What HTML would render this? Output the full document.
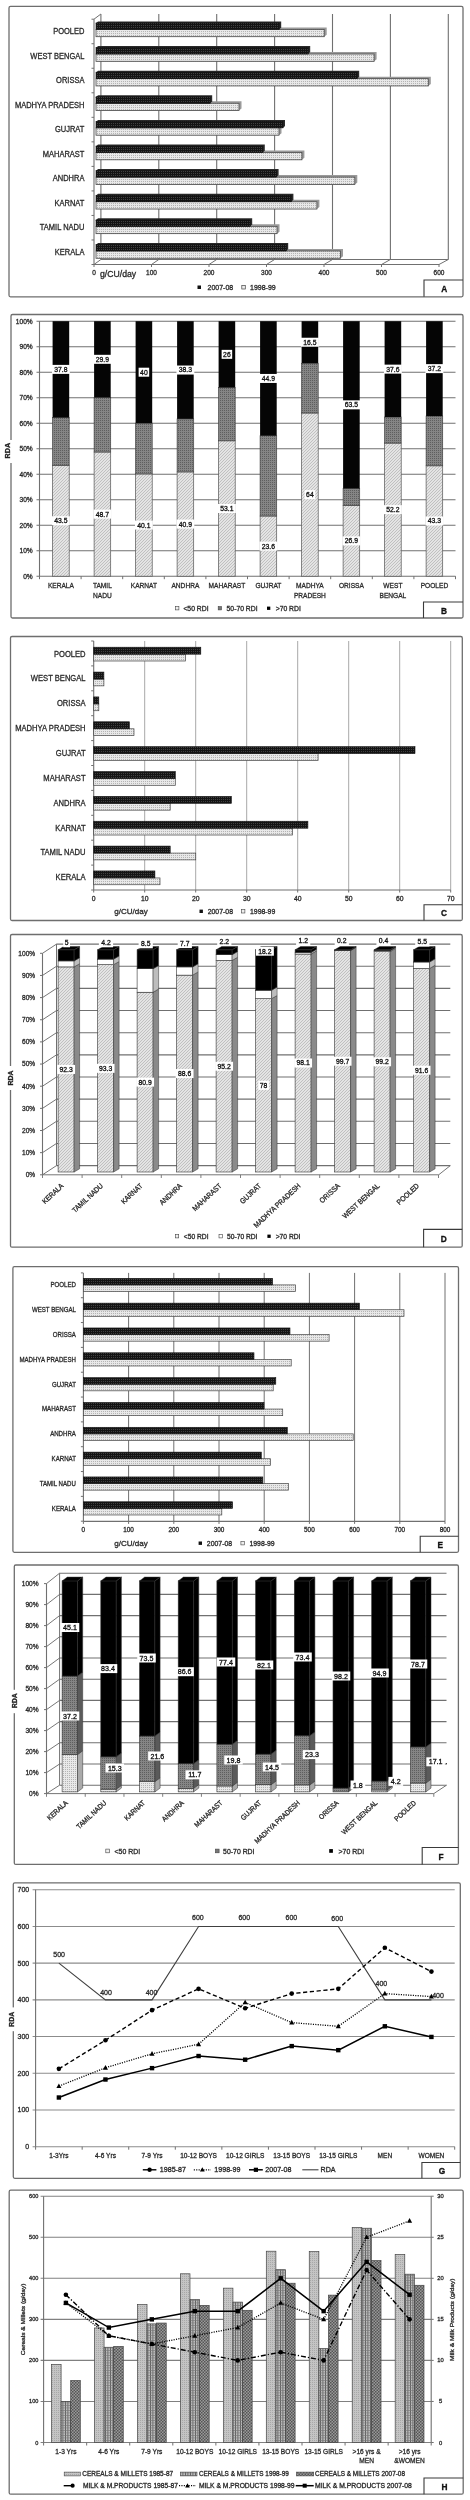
<!DOCTYPE html>
<html><head><meta charset="utf-8"><style>
html,body{margin:0;padding:0;background:#fff;}
svg{display:block;font-family:"Liberation Sans", sans-serif;filter:grayscale(1);}
text{stroke:currentColor;stroke-width:0.3px;}
</style></head><body>
<svg width="470" height="2500" viewBox="0 0 470 2500">

<defs>
<pattern id="pDark" width="2" height="2" patternUnits="userSpaceOnUse"><rect width="2" height="2" fill="#141414"/><rect x="1" y="1" width="1" height="1" fill="#404040"/></pattern>
<pattern id="pLight" width="2" height="2" patternUnits="userSpaceOnUse"><rect width="2" height="2" fill="#e8e8e8"/><rect x="1" y="1" width="1" height="1" fill="#b4b4b4"/></pattern>
<pattern id="pHatch" width="3" height="3" patternUnits="userSpaceOnUse"><rect width="3" height="3" fill="#e4e4e4"/><path d="M0,3 L3,0" stroke="#b0b0b0" stroke-width="0.7"/></pattern>
<pattern id="pMid" width="2" height="2" patternUnits="userSpaceOnUse"><rect width="2" height="2" fill="#858585"/><rect width="1" height="1" fill="#5e5e5e"/></pattern>
<pattern id="pH1" width="2" height="2" patternUnits="userSpaceOnUse"><rect width="2" height="2" fill="#c4c4c4"/><rect width="1" height="1" fill="#a8a8a8"/></pattern>
<pattern id="pH2" width="2.5" height="2.5" patternUnits="userSpaceOnUse"><rect width="2.5" height="2.5" fill="#bdbdbd"/><rect width="0.8" height="2.5" fill="#555"/><rect width="2.5" height="0.6" fill="#777"/></pattern>
<pattern id="pH3" width="3" height="3" patternUnits="userSpaceOnUse"><rect width="3" height="3" fill="#9a9a9a"/><rect width="1.5" height="1.5" fill="#555"/><rect x="1.5" y="1.5" width="1.5" height="1.5" fill="#555"/></pattern>
</defs>

<rect width="470" height="2500" fill="#fff"/>
<rect x="9" y="6.4" width="454" height="290.4" fill="none" stroke="#6e6e6e" stroke-width="1.3" rx="1.5"/>
<polyline points="424,296.8 424,280 463,280" fill="none" stroke="#3a3a3a" stroke-width="1.1"/>
<text x="444.3" y="292.1" font-size="8.3" text-anchor="middle" fill="#111" color="#111" font-weight="bold">A</text>
<line x1="100.9" y1="14" x2="100.9" y2="259.5" stroke="#707070" stroke-width="1.1"/>
<line x1="94" y1="264.5" x2="100.9" y2="259.5" stroke="#707070" stroke-width="1"/>
<line x1="94" y1="264.5" x2="94" y2="267" stroke="#707070" stroke-width="1"/>
<text x="94" y="275.1" font-size="6.5" text-anchor="middle" fill="#2a2a2a" color="#2a2a2a">0</text>
<line x1="158.8" y1="14" x2="158.8" y2="259.5" stroke="#707070" stroke-width="1.1"/>
<line x1="151.5" y1="264.5" x2="158.8" y2="259.5" stroke="#707070" stroke-width="1"/>
<line x1="151.5" y1="264.5" x2="151.5" y2="267" stroke="#707070" stroke-width="1"/>
<text x="151.5" y="275.1" font-size="6.5" text-anchor="middle" fill="#2a2a2a" color="#2a2a2a">100</text>
<line x1="216.7" y1="14" x2="216.7" y2="259.5" stroke="#707070" stroke-width="1.1"/>
<line x1="209" y1="264.5" x2="216.7" y2="259.5" stroke="#707070" stroke-width="1"/>
<line x1="209" y1="264.5" x2="209" y2="267" stroke="#707070" stroke-width="1"/>
<text x="209" y="275.1" font-size="6.5" text-anchor="middle" fill="#2a2a2a" color="#2a2a2a">200</text>
<line x1="274.6" y1="14" x2="274.6" y2="259.5" stroke="#707070" stroke-width="1.1"/>
<line x1="266.5" y1="264.5" x2="274.6" y2="259.5" stroke="#707070" stroke-width="1"/>
<line x1="266.5" y1="264.5" x2="266.5" y2="267" stroke="#707070" stroke-width="1"/>
<text x="266.5" y="275.1" font-size="6.5" text-anchor="middle" fill="#2a2a2a" color="#2a2a2a">300</text>
<line x1="332.5" y1="14" x2="332.5" y2="259.5" stroke="#707070" stroke-width="1.1"/>
<line x1="324" y1="264.5" x2="332.5" y2="259.5" stroke="#707070" stroke-width="1"/>
<line x1="324" y1="264.5" x2="324" y2="267" stroke="#707070" stroke-width="1"/>
<text x="324" y="275.1" font-size="6.5" text-anchor="middle" fill="#2a2a2a" color="#2a2a2a">400</text>
<line x1="390.4" y1="14" x2="390.4" y2="259.5" stroke="#707070" stroke-width="1.1"/>
<line x1="381.5" y1="264.5" x2="390.4" y2="259.5" stroke="#707070" stroke-width="1"/>
<line x1="381.5" y1="264.5" x2="381.5" y2="267" stroke="#707070" stroke-width="1"/>
<text x="381.5" y="275.1" font-size="6.5" text-anchor="middle" fill="#2a2a2a" color="#2a2a2a">500</text>
<line x1="448.3" y1="14" x2="448.3" y2="259.5" stroke="#707070" stroke-width="1.1"/>
<line x1="439" y1="264.5" x2="448.3" y2="259.5" stroke="#707070" stroke-width="1"/>
<line x1="439" y1="264.5" x2="439" y2="267" stroke="#707070" stroke-width="1"/>
<text x="439" y="275.1" font-size="6.5" text-anchor="middle" fill="#2a2a2a" color="#2a2a2a">600</text>
<line x1="100.9" y1="259.5" x2="448.3" y2="259.5" stroke="#707070" stroke-width="1"/>
<line x1="94" y1="19.2" x2="94" y2="264.5" stroke="#707070" stroke-width="1.1"/>
<line x1="94" y1="264.5" x2="439" y2="264.5" stroke="#707070" stroke-width="1.1"/>
<line x1="94" y1="19.2" x2="100.9" y2="14" stroke="#707070" stroke-width="1"/>
<line x1="91.5" y1="19.2" x2="94" y2="19.2" stroke="#707070" stroke-width="1"/>
<line x1="91.5" y1="43.73" x2="94" y2="43.73" stroke="#707070" stroke-width="1"/>
<line x1="91.5" y1="68.26" x2="94" y2="68.26" stroke="#707070" stroke-width="1"/>
<line x1="91.5" y1="92.79" x2="94" y2="92.79" stroke="#707070" stroke-width="1"/>
<line x1="91.5" y1="117.32" x2="94" y2="117.32" stroke="#707070" stroke-width="1"/>
<line x1="91.5" y1="141.85" x2="94" y2="141.85" stroke="#707070" stroke-width="1"/>
<line x1="91.5" y1="166.38" x2="94" y2="166.38" stroke="#707070" stroke-width="1"/>
<line x1="91.5" y1="190.91" x2="94" y2="190.91" stroke="#707070" stroke-width="1"/>
<line x1="91.5" y1="215.44" x2="94" y2="215.44" stroke="#707070" stroke-width="1"/>
<line x1="91.5" y1="239.97" x2="94" y2="239.97" stroke="#707070" stroke-width="1"/>
<line x1="91.5" y1="264.5" x2="94" y2="264.5" stroke="#707070" stroke-width="1"/>
<polygon points="96,29.4 98,27.4 326.7,27.4 326.7,34.7 324.2,36.7 96,36.7" fill="#9a9a9a"/>
<rect x="96" y="29.4" width="228.2" height="7.3" fill="url(#pLight)" stroke="#4a4a4a" stroke-width="0.8"/>
<polygon points="96,23.4 98,21.4 281.2,21.4 281.2,27.4 279.2,29.4 96,29.4" fill="#2a2a2a"/>
<rect x="96" y="22.9" width="183.2" height="6.5" fill="url(#pDark)" stroke="#111" stroke-width="0.6"/>
<text x="84.4" y="34" font-size="8.43" text-anchor="end" fill="#2a2a2a" color="#2a2a2a" textLength="31.26" lengthAdjust="spacingAndGlyphs">POOLED</text>
<polygon points="96,54.02 98,52.02 376.6,52.02 376.6,59.32 374.1,61.32 96,61.32" fill="#9a9a9a"/>
<rect x="96" y="54.02" width="278.1" height="7.3" fill="url(#pLight)" stroke="#4a4a4a" stroke-width="0.8"/>
<polygon points="96,48.02 98,46.02 310.2,46.02 310.2,52.02 308.2,54.02 96,54.02" fill="#2a2a2a"/>
<rect x="96" y="47.52" width="212.2" height="6.5" fill="url(#pDark)" stroke="#111" stroke-width="0.6"/>
<text x="84.4" y="58.52" font-size="8.43" text-anchor="end" fill="#2a2a2a" color="#2a2a2a" textLength="54.04" lengthAdjust="spacingAndGlyphs">WEST BENGAL</text>
<polygon points="96,78.64 98,76.64 430.8,76.64 430.8,83.94 428.3,85.94 96,85.94" fill="#9a9a9a"/>
<rect x="96" y="78.64" width="332.3" height="7.3" fill="url(#pLight)" stroke="#4a4a4a" stroke-width="0.8"/>
<polygon points="96,72.64 98,70.64 359.2,70.64 359.2,76.64 357.2,78.64 96,78.64" fill="#2a2a2a"/>
<rect x="96" y="72.14" width="261.2" height="6.5" fill="url(#pDark)" stroke="#111" stroke-width="0.6"/>
<text x="84.4" y="83.04" font-size="8.43" text-anchor="end" fill="#2a2a2a" color="#2a2a2a" textLength="28.34" lengthAdjust="spacingAndGlyphs">ORISSA</text>
<polygon points="96,103.26 98,101.26 241.5,101.26 241.5,108.56 239,110.56 96,110.56" fill="#9a9a9a"/>
<rect x="96" y="103.26" width="143" height="7.3" fill="url(#pLight)" stroke="#4a4a4a" stroke-width="0.8"/>
<polygon points="96,97.26 98,95.26 212.2,95.26 212.2,101.26 210.2,103.26 96,103.26" fill="#2a2a2a"/>
<rect x="96" y="96.76" width="114.2" height="6.5" fill="url(#pDark)" stroke="#111" stroke-width="0.6"/>
<text x="84.4" y="107.56" font-size="8.43" text-anchor="end" fill="#2a2a2a" color="#2a2a2a" textLength="69.46" lengthAdjust="spacingAndGlyphs">MADHYA PRADESH</text>
<polygon points="96,127.88 98,125.88 281.5,125.88 281.5,133.18 279,135.18 96,135.18" fill="#9a9a9a"/>
<rect x="96" y="127.88" width="183" height="7.3" fill="url(#pLight)" stroke="#4a4a4a" stroke-width="0.8"/>
<polygon points="96,121.88 98,119.88 285,119.88 285,125.88 283,127.88 96,127.88" fill="#2a2a2a"/>
<rect x="96" y="121.38" width="187" height="6.5" fill="url(#pDark)" stroke="#111" stroke-width="0.6"/>
<text x="84.4" y="132.08" font-size="8.43" text-anchor="end" fill="#2a2a2a" color="#2a2a2a" textLength="29.44" lengthAdjust="spacingAndGlyphs">GUJRAT</text>
<polygon points="96,152.5 98,150.5 304.4,150.5 304.4,157.8 301.9,159.8 96,159.8" fill="#9a9a9a"/>
<rect x="96" y="152.5" width="205.9" height="7.3" fill="url(#pLight)" stroke="#4a4a4a" stroke-width="0.8"/>
<polygon points="96,146.5 98,144.5 264.8,144.5 264.8,150.5 262.8,152.5 96,152.5" fill="#2a2a2a"/>
<rect x="96" y="146" width="166.8" height="6.5" fill="url(#pDark)" stroke="#111" stroke-width="0.6"/>
<text x="84.4" y="156.6" font-size="8.43" text-anchor="end" fill="#2a2a2a" color="#2a2a2a" textLength="41.67" lengthAdjust="spacingAndGlyphs">MAHARAST</text>
<polygon points="96,177.12 98,175.12 357.3,175.12 357.3,182.42 354.8,184.42 96,184.42" fill="#9a9a9a"/>
<rect x="96" y="177.12" width="258.8" height="7.3" fill="url(#pLight)" stroke="#4a4a4a" stroke-width="0.8"/>
<polygon points="96,171.12 98,169.12 278.6,169.12 278.6,175.12 276.6,177.12 96,177.12" fill="#2a2a2a"/>
<rect x="96" y="170.62" width="180.6" height="6.5" fill="url(#pDark)" stroke="#111" stroke-width="0.6"/>
<text x="84.4" y="181.12" font-size="8.43" text-anchor="end" fill="#2a2a2a" color="#2a2a2a" textLength="31.67" lengthAdjust="spacingAndGlyphs">ANDHRA</text>
<polygon points="96,201.74 98,199.74 319.4,199.74 319.4,207.04 316.9,209.04 96,209.04" fill="#9a9a9a"/>
<rect x="96" y="201.74" width="220.9" height="7.3" fill="url(#pLight)" stroke="#4a4a4a" stroke-width="0.8"/>
<polygon points="96,195.74 98,193.74 293.4,193.74 293.4,199.74 291.4,201.74 96,201.74" fill="#2a2a2a"/>
<rect x="96" y="195.24" width="195.4" height="6.5" fill="url(#pDark)" stroke="#111" stroke-width="0.6"/>
<text x="84.4" y="205.64" font-size="8.43" text-anchor="end" fill="#2a2a2a" color="#2a2a2a" textLength="29.87" lengthAdjust="spacingAndGlyphs">KARNAT</text>
<polygon points="96,226.36 98,224.36 279.5,224.36 279.5,231.66 277,233.66 96,233.66" fill="#9a9a9a"/>
<rect x="96" y="226.36" width="181" height="7.3" fill="url(#pLight)" stroke="#4a4a4a" stroke-width="0.8"/>
<polygon points="96,220.36 98,218.36 252.2,218.36 252.2,224.36 250.2,226.36 96,226.36" fill="#2a2a2a"/>
<rect x="96" y="219.86" width="154.2" height="6.5" fill="url(#pDark)" stroke="#111" stroke-width="0.6"/>
<text x="84.4" y="230.16" font-size="8.43" text-anchor="end" fill="#2a2a2a" color="#2a2a2a" textLength="44.59" lengthAdjust="spacingAndGlyphs">TAMIL NADU</text>
<polygon points="96,250.98 98,248.98 343,248.98 343,256.28 340.5,258.28 96,258.28" fill="#9a9a9a"/>
<rect x="96" y="250.98" width="244.5" height="7.3" fill="url(#pLight)" stroke="#4a4a4a" stroke-width="0.8"/>
<polygon points="96,244.98 98,242.98 288.2,242.98 288.2,248.98 286.2,250.98 96,250.98" fill="#2a2a2a"/>
<rect x="96" y="244.48" width="190.2" height="6.5" fill="url(#pDark)" stroke="#111" stroke-width="0.6"/>
<text x="84.4" y="254.68" font-size="8.43" text-anchor="end" fill="#2a2a2a" color="#2a2a2a" textLength="29.6" lengthAdjust="spacingAndGlyphs">KERALA</text>
<text x="100" y="277" font-size="8.66" text-anchor="start" fill="#2a2a2a" color="#2a2a2a">g/CU/day</text>
<rect x="197.5" y="285.5" width="3.5" height="3.5" fill="#111"/>
<text x="207.5" y="289.6" font-size="7" text-anchor="start" fill="#2a2a2a" color="#2a2a2a">2007-08</text>
<rect x="241.8" y="285.5" width="3.5" height="3.5" fill="#eee" stroke="#444" stroke-width="0.7"/>
<text x="250" y="289.6" font-size="7" text-anchor="start" fill="#2a2a2a" color="#2a2a2a">1998-99</text>
<rect x="11" y="314.5" width="452" height="303.5" fill="none" stroke="#6e6e6e" stroke-width="1.3" rx="1.5"/>
<polyline points="423.5,618 423.5,602 463,602" fill="none" stroke="#3a3a3a" stroke-width="1.1"/>
<text x="444.05" y="613.7" font-size="8.3" text-anchor="middle" fill="#111" color="#111" font-weight="bold">B</text>
<rect x="3.2" y="440" width="9.8" height="23" fill="#fff"/>
<text x="9.79" y="450.6" font-size="7.2" text-anchor="middle" fill="#222" color="#222" font-weight="bold" transform="rotate(-90 9.79 450.6)">RDA</text>
<line x1="36.5" y1="576.2" x2="455.5" y2="576.2" stroke="#707070" stroke-width="1.1"/>
<text x="32.7" y="578.6" font-size="6.6" text-anchor="end" fill="#2a2a2a" color="#2a2a2a">0%</text>
<line x1="36.5" y1="550.7" x2="455.5" y2="550.7" stroke="#707070" stroke-width="1.1"/>
<text x="32.7" y="553.1" font-size="6.6" text-anchor="end" fill="#2a2a2a" color="#2a2a2a">10%</text>
<line x1="36.5" y1="525.2" x2="455.5" y2="525.2" stroke="#707070" stroke-width="1.1"/>
<text x="32.7" y="527.6" font-size="6.6" text-anchor="end" fill="#2a2a2a" color="#2a2a2a">20%</text>
<line x1="36.5" y1="499.7" x2="455.5" y2="499.7" stroke="#707070" stroke-width="1.1"/>
<text x="32.7" y="502.1" font-size="6.6" text-anchor="end" fill="#2a2a2a" color="#2a2a2a">30%</text>
<line x1="36.5" y1="474.2" x2="455.5" y2="474.2" stroke="#707070" stroke-width="1.1"/>
<text x="32.7" y="476.6" font-size="6.6" text-anchor="end" fill="#2a2a2a" color="#2a2a2a">40%</text>
<line x1="36.5" y1="448.7" x2="455.5" y2="448.7" stroke="#707070" stroke-width="1.1"/>
<text x="32.7" y="451.1" font-size="6.6" text-anchor="end" fill="#2a2a2a" color="#2a2a2a">50%</text>
<line x1="36.5" y1="423.2" x2="455.5" y2="423.2" stroke="#707070" stroke-width="1.1"/>
<text x="32.7" y="425.6" font-size="6.6" text-anchor="end" fill="#2a2a2a" color="#2a2a2a">60%</text>
<line x1="36.5" y1="397.7" x2="455.5" y2="397.7" stroke="#707070" stroke-width="1.1"/>
<text x="32.7" y="400.1" font-size="6.6" text-anchor="end" fill="#2a2a2a" color="#2a2a2a">70%</text>
<line x1="36.5" y1="372.2" x2="455.5" y2="372.2" stroke="#707070" stroke-width="1.1"/>
<text x="32.7" y="374.6" font-size="6.6" text-anchor="end" fill="#2a2a2a" color="#2a2a2a">80%</text>
<line x1="36.5" y1="346.7" x2="455.5" y2="346.7" stroke="#707070" stroke-width="1.1"/>
<text x="32.7" y="349.1" font-size="6.6" text-anchor="end" fill="#2a2a2a" color="#2a2a2a">90%</text>
<line x1="36.5" y1="321.2" x2="455.5" y2="321.2" stroke="#707070" stroke-width="1.1"/>
<text x="32.7" y="323.6" font-size="6.6" text-anchor="end" fill="#2a2a2a" color="#2a2a2a">100%</text>
<line x1="39.5" y1="321.2" x2="39.5" y2="576.2" stroke="#707070" stroke-width="1.1"/>
<line x1="39.5" y1="576.2" x2="39.5" y2="579.2" stroke="#707070" stroke-width="1"/>
<line x1="81.1" y1="576.2" x2="81.1" y2="579.2" stroke="#707070" stroke-width="1"/>
<line x1="122.7" y1="576.2" x2="122.7" y2="579.2" stroke="#707070" stroke-width="1"/>
<line x1="164.3" y1="576.2" x2="164.3" y2="579.2" stroke="#707070" stroke-width="1"/>
<line x1="205.9" y1="576.2" x2="205.9" y2="579.2" stroke="#707070" stroke-width="1"/>
<line x1="247.5" y1="576.2" x2="247.5" y2="579.2" stroke="#707070" stroke-width="1"/>
<line x1="289.1" y1="576.2" x2="289.1" y2="579.2" stroke="#707070" stroke-width="1"/>
<line x1="330.7" y1="576.2" x2="330.7" y2="579.2" stroke="#707070" stroke-width="1"/>
<line x1="372.3" y1="576.2" x2="372.3" y2="579.2" stroke="#707070" stroke-width="1"/>
<line x1="413.9" y1="576.2" x2="413.9" y2="579.2" stroke="#707070" stroke-width="1"/>
<line x1="455.5" y1="576.2" x2="455.5" y2="579.2" stroke="#707070" stroke-width="1"/>
<rect x="52.6" y="465.28" width="16.6" height="110.93" fill="url(#pHatch)" stroke="#555" stroke-width="0.7"/>
<rect x="52.6" y="417.59" width="16.6" height="47.69" fill="url(#pMid)" stroke="#444" stroke-width="0.7"/>
<rect x="52.6" y="321.2" width="16.6" height="96.39" fill="#050505"/>
<rect x="51.96" y="364.89" width="17.89" height="9" fill="#fff"/>
<text x="60.9" y="371.84" font-size="6.8" text-anchor="middle" fill="#111" color="#111">37.8</text>
<rect x="51.96" y="516.24" width="17.89" height="9" fill="#fff"/>
<text x="60.9" y="523.19" font-size="6.8" text-anchor="middle" fill="#111" color="#111">43.5</text>
<text x="60.9" y="588.3" font-size="7.42" text-anchor="middle" fill="#2a2a2a" color="#2a2a2a" textLength="26.05" lengthAdjust="spacingAndGlyphs">KERALA</text>
<rect x="94.1" y="452.01" width="16.6" height="124.19" fill="url(#pHatch)" stroke="#555" stroke-width="0.7"/>
<rect x="94.1" y="397.45" width="16.6" height="54.57" fill="url(#pMid)" stroke="#444" stroke-width="0.7"/>
<rect x="94.1" y="321.2" width="16.6" height="76.25" fill="#050505"/>
<rect x="93.46" y="354.82" width="17.89" height="9" fill="#fff"/>
<text x="102.4" y="361.77" font-size="6.8" text-anchor="middle" fill="#111" color="#111">29.9</text>
<rect x="93.46" y="509.61" width="17.89" height="9" fill="#fff"/>
<text x="102.4" y="516.56" font-size="6.8" text-anchor="middle" fill="#111" color="#111">48.7</text>
<text x="102.4" y="588.3" font-size="7.42" text-anchor="middle" fill="#2a2a2a" color="#2a2a2a" textLength="18.95" lengthAdjust="spacingAndGlyphs">TAMIL</text>
<text x="102.4" y="597.8" font-size="7.42" text-anchor="middle" fill="#2a2a2a" color="#2a2a2a" textLength="18.7" lengthAdjust="spacingAndGlyphs">NADU</text>
<rect x="135.6" y="473.94" width="16.6" height="102.26" fill="url(#pHatch)" stroke="#555" stroke-width="0.7"/>
<rect x="135.6" y="423.2" width="16.6" height="50.75" fill="url(#pMid)" stroke="#444" stroke-width="0.7"/>
<rect x="135.6" y="321.2" width="16.6" height="102" fill="#050505"/>
<rect x="138.63" y="367.7" width="10.54" height="9" fill="#fff"/>
<text x="143.9" y="374.65" font-size="6.8" text-anchor="middle" fill="#111" color="#111">40</text>
<rect x="134.96" y="520.57" width="17.89" height="9" fill="#fff"/>
<text x="143.9" y="527.52" font-size="6.8" text-anchor="middle" fill="#111" color="#111">40.1</text>
<text x="143.9" y="588.3" font-size="7.42" text-anchor="middle" fill="#2a2a2a" color="#2a2a2a" textLength="26.28" lengthAdjust="spacingAndGlyphs">KARNAT</text>
<rect x="177.1" y="471.91" width="16.6" height="104.3" fill="url(#pHatch)" stroke="#555" stroke-width="0.7"/>
<rect x="177.1" y="418.87" width="16.6" height="53.04" fill="url(#pMid)" stroke="#444" stroke-width="0.7"/>
<rect x="177.1" y="321.2" width="16.6" height="97.67" fill="#050505"/>
<rect x="176.46" y="365.53" width="17.89" height="9" fill="#fff"/>
<text x="185.4" y="372.48" font-size="6.8" text-anchor="middle" fill="#111" color="#111">38.3</text>
<rect x="176.46" y="519.55" width="17.89" height="9" fill="#fff"/>
<text x="185.4" y="526.5" font-size="6.8" text-anchor="middle" fill="#111" color="#111">40.9</text>
<text x="185.4" y="588.3" font-size="7.42" text-anchor="middle" fill="#2a2a2a" color="#2a2a2a" textLength="27.87" lengthAdjust="spacingAndGlyphs">ANDHRA</text>
<rect x="218.6" y="440.8" width="16.6" height="135.41" fill="url(#pHatch)" stroke="#555" stroke-width="0.7"/>
<rect x="218.6" y="387.5" width="16.6" height="53.3" fill="url(#pMid)" stroke="#444" stroke-width="0.7"/>
<rect x="218.6" y="321.2" width="16.6" height="66.3" fill="#050505"/>
<rect x="221.63" y="349.85" width="10.54" height="9" fill="#fff"/>
<text x="226.9" y="356.8" font-size="6.8" text-anchor="middle" fill="#111" color="#111">26</text>
<rect x="217.96" y="504" width="17.89" height="9" fill="#fff"/>
<text x="226.9" y="510.95" font-size="6.8" text-anchor="middle" fill="#111" color="#111">53.1</text>
<text x="226.9" y="588.3" font-size="7.42" text-anchor="middle" fill="#2a2a2a" color="#2a2a2a" textLength="36.67" lengthAdjust="spacingAndGlyphs">MAHARAST</text>
<rect x="260.1" y="516.02" width="16.6" height="60.18" fill="url(#pHatch)" stroke="#555" stroke-width="0.7"/>
<rect x="260.1" y="435.69" width="16.6" height="80.32" fill="url(#pMid)" stroke="#444" stroke-width="0.7"/>
<rect x="260.1" y="321.2" width="16.6" height="114.5" fill="#050505"/>
<rect x="259.46" y="373.95" width="17.89" height="9" fill="#fff"/>
<text x="268.4" y="380.9" font-size="6.8" text-anchor="middle" fill="#111" color="#111">44.9</text>
<rect x="259.46" y="541.61" width="17.89" height="9" fill="#fff"/>
<text x="268.4" y="548.56" font-size="6.8" text-anchor="middle" fill="#111" color="#111">23.6</text>
<text x="268.4" y="588.3" font-size="7.42" text-anchor="middle" fill="#2a2a2a" color="#2a2a2a" textLength="25.91" lengthAdjust="spacingAndGlyphs">GUJRAT</text>
<rect x="301.6" y="413" width="16.6" height="163.2" fill="url(#pHatch)" stroke="#555" stroke-width="0.7"/>
<rect x="301.6" y="363.27" width="16.6" height="49.73" fill="url(#pMid)" stroke="#444" stroke-width="0.7"/>
<rect x="301.6" y="321.2" width="16.6" height="42.07" fill="#050505"/>
<rect x="300.96" y="337.74" width="17.89" height="9" fill="#fff"/>
<text x="309.9" y="344.69" font-size="6.8" text-anchor="middle" fill="#111" color="#111">16.5</text>
<rect x="304.63" y="490.1" width="10.54" height="9" fill="#fff"/>
<text x="309.9" y="497.05" font-size="6.8" text-anchor="middle" fill="#111" color="#111">64</text>
<text x="309.9" y="588.3" font-size="7.42" text-anchor="middle" fill="#2a2a2a" color="#2a2a2a" textLength="27.75" lengthAdjust="spacingAndGlyphs">MADHYA</text>
<text x="309.9" y="597.8" font-size="7.42" text-anchor="middle" fill="#2a2a2a" color="#2a2a2a" textLength="31.91" lengthAdjust="spacingAndGlyphs">PRADESH</text>
<rect x="343.1" y="505.57" width="16.6" height="70.63" fill="url(#pHatch)" stroke="#555" stroke-width="0.7"/>
<rect x="343.1" y="488.48" width="16.6" height="17.09" fill="url(#pMid)" stroke="#444" stroke-width="0.7"/>
<rect x="343.1" y="321.2" width="16.6" height="167.28" fill="#050505"/>
<rect x="342.46" y="400.34" width="17.89" height="9" fill="#fff"/>
<text x="351.4" y="407.29" font-size="6.8" text-anchor="middle" fill="#111" color="#111">63.5</text>
<rect x="342.46" y="536.38" width="17.89" height="9" fill="#fff"/>
<text x="351.4" y="543.33" font-size="6.8" text-anchor="middle" fill="#111" color="#111">26.9</text>
<text x="351.4" y="588.3" font-size="7.42" text-anchor="middle" fill="#2a2a2a" color="#2a2a2a" textLength="24.94" lengthAdjust="spacingAndGlyphs">ORISSA</text>
<rect x="384.6" y="443.09" width="16.6" height="133.11" fill="url(#pHatch)" stroke="#555" stroke-width="0.7"/>
<rect x="384.6" y="417.08" width="16.6" height="26.01" fill="url(#pMid)" stroke="#444" stroke-width="0.7"/>
<rect x="384.6" y="321.2" width="16.6" height="95.88" fill="#050505"/>
<rect x="383.96" y="364.64" width="17.89" height="9" fill="#fff"/>
<text x="392.9" y="371.59" font-size="6.8" text-anchor="middle" fill="#111" color="#111">37.6</text>
<rect x="383.96" y="505.15" width="17.89" height="9" fill="#fff"/>
<text x="392.9" y="512.09" font-size="6.8" text-anchor="middle" fill="#111" color="#111">52.2</text>
<text x="392.9" y="588.3" font-size="7.42" text-anchor="middle" fill="#2a2a2a" color="#2a2a2a" textLength="19.07" lengthAdjust="spacingAndGlyphs">WEST</text>
<text x="392.9" y="597.8" font-size="7.42" text-anchor="middle" fill="#2a2a2a" color="#2a2a2a" textLength="26.78" lengthAdjust="spacingAndGlyphs">BENGAL</text>
<rect x="426.1" y="465.79" width="16.6" height="110.42" fill="url(#pHatch)" stroke="#555" stroke-width="0.7"/>
<rect x="426.1" y="416.06" width="16.6" height="49.73" fill="url(#pMid)" stroke="#444" stroke-width="0.7"/>
<rect x="426.1" y="321.2" width="16.6" height="94.86" fill="#050505"/>
<rect x="425.46" y="364.13" width="17.89" height="9" fill="#fff"/>
<text x="434.4" y="371.08" font-size="6.8" text-anchor="middle" fill="#111" color="#111">37.2</text>
<rect x="425.46" y="516.49" width="17.89" height="9" fill="#fff"/>
<text x="434.4" y="523.44" font-size="6.8" text-anchor="middle" fill="#111" color="#111">43.3</text>
<text x="434.4" y="588.3" font-size="7.42" text-anchor="middle" fill="#2a2a2a" color="#2a2a2a" textLength="27.51" lengthAdjust="spacingAndGlyphs">POOLED</text>
<rect x="175.6" y="606.6" width="3.3" height="3.3" fill="#eee" stroke="#444" stroke-width="0.6"/>
<text x="183.4" y="610.7" font-size="6.8" text-anchor="start" fill="#2a2a2a" color="#2a2a2a">&lt;50 RDI</text>
<rect x="218.2" y="606.6" width="3.3" height="3.3" fill="#777" stroke="#444" stroke-width="0.6"/>
<text x="226.6" y="610.7" font-size="6.8" text-anchor="start" fill="#2a2a2a" color="#2a2a2a">50-70 RDI</text>
<rect x="267" y="606.6" width="3.3" height="3.3" fill="#000"/>
<text x="275.7" y="610.7" font-size="6.8" text-anchor="start" fill="#2a2a2a" color="#2a2a2a">&gt;70 RDI</text>
<rect x="10.5" y="636.5" width="451.8" height="284" fill="none" stroke="#6e6e6e" stroke-width="1.3" rx="1.5"/>
<polyline points="424,920.5 424,904.7 462.3,904.7" fill="none" stroke="#3a3a3a" stroke-width="1.1"/>
<text x="443.95" y="916.3" font-size="8.3" text-anchor="middle" fill="#111" color="#111" font-weight="bold">C</text>
<line x1="93.7" y1="890" x2="93.7" y2="892.5" stroke="#707070" stroke-width="1"/>
<text x="93.7" y="900.6" font-size="6.8" text-anchor="middle" fill="#2a2a2a" color="#2a2a2a">0</text>
<line x1="144.7" y1="641" x2="144.7" y2="890" stroke="#a8a8a8" stroke-width="1"/>
<line x1="144.7" y1="890" x2="144.7" y2="892.5" stroke="#707070" stroke-width="1"/>
<text x="144.7" y="900.6" font-size="6.8" text-anchor="middle" fill="#2a2a2a" color="#2a2a2a">10</text>
<line x1="195.7" y1="641" x2="195.7" y2="890" stroke="#a8a8a8" stroke-width="1"/>
<line x1="195.7" y1="890" x2="195.7" y2="892.5" stroke="#707070" stroke-width="1"/>
<text x="195.7" y="900.6" font-size="6.8" text-anchor="middle" fill="#2a2a2a" color="#2a2a2a">20</text>
<line x1="246.7" y1="641" x2="246.7" y2="890" stroke="#a8a8a8" stroke-width="1"/>
<line x1="246.7" y1="890" x2="246.7" y2="892.5" stroke="#707070" stroke-width="1"/>
<text x="246.7" y="900.6" font-size="6.8" text-anchor="middle" fill="#2a2a2a" color="#2a2a2a">30</text>
<line x1="297.7" y1="641" x2="297.7" y2="890" stroke="#a8a8a8" stroke-width="1"/>
<line x1="297.7" y1="890" x2="297.7" y2="892.5" stroke="#707070" stroke-width="1"/>
<text x="297.7" y="900.6" font-size="6.8" text-anchor="middle" fill="#2a2a2a" color="#2a2a2a">40</text>
<line x1="348.7" y1="641" x2="348.7" y2="890" stroke="#a8a8a8" stroke-width="1"/>
<line x1="348.7" y1="890" x2="348.7" y2="892.5" stroke="#707070" stroke-width="1"/>
<text x="348.7" y="900.6" font-size="6.8" text-anchor="middle" fill="#2a2a2a" color="#2a2a2a">50</text>
<line x1="399.7" y1="641" x2="399.7" y2="890" stroke="#a8a8a8" stroke-width="1"/>
<line x1="399.7" y1="890" x2="399.7" y2="892.5" stroke="#707070" stroke-width="1"/>
<text x="399.7" y="900.6" font-size="6.8" text-anchor="middle" fill="#2a2a2a" color="#2a2a2a">60</text>
<line x1="450.7" y1="641" x2="450.7" y2="890" stroke="#a8a8a8" stroke-width="1"/>
<line x1="450.7" y1="890" x2="450.7" y2="892.5" stroke="#707070" stroke-width="1"/>
<text x="450.7" y="900.6" font-size="6.8" text-anchor="middle" fill="#2a2a2a" color="#2a2a2a">70</text>
<line x1="93.7" y1="641" x2="93.7" y2="890" stroke="#707070" stroke-width="1.1"/>
<line x1="93.7" y1="890" x2="450.7" y2="890" stroke="#707070" stroke-width="1.1"/>
<line x1="91.2" y1="641" x2="93.7" y2="641" stroke="#707070" stroke-width="1"/>
<line x1="91.2" y1="665.9" x2="93.7" y2="665.9" stroke="#707070" stroke-width="1"/>
<line x1="91.2" y1="690.8" x2="93.7" y2="690.8" stroke="#707070" stroke-width="1"/>
<line x1="91.2" y1="715.7" x2="93.7" y2="715.7" stroke="#707070" stroke-width="1"/>
<line x1="91.2" y1="740.6" x2="93.7" y2="740.6" stroke="#707070" stroke-width="1"/>
<line x1="91.2" y1="765.5" x2="93.7" y2="765.5" stroke="#707070" stroke-width="1"/>
<line x1="91.2" y1="790.4" x2="93.7" y2="790.4" stroke="#707070" stroke-width="1"/>
<line x1="91.2" y1="815.3" x2="93.7" y2="815.3" stroke="#707070" stroke-width="1"/>
<line x1="91.2" y1="840.2" x2="93.7" y2="840.2" stroke="#707070" stroke-width="1"/>
<line x1="91.2" y1="865.1" x2="93.7" y2="865.1" stroke="#707070" stroke-width="1"/>
<line x1="91.2" y1="890" x2="93.7" y2="890" stroke="#707070" stroke-width="1"/>
<rect x="93.7" y="654.2" width="91.8" height="6.8" fill="url(#pLight)" stroke="#444" stroke-width="0.7"/>
<rect x="93.7" y="647.2" width="107.1" height="7" fill="url(#pDark)" stroke="#111" stroke-width="0.6"/>
<text x="85.6" y="656.6" font-size="8.54" text-anchor="end" fill="#2a2a2a" color="#2a2a2a" textLength="31.68" lengthAdjust="spacingAndGlyphs">POOLED</text>
<rect x="93.7" y="679.06" width="10.2" height="6.8" fill="url(#pLight)" stroke="#444" stroke-width="0.7"/>
<rect x="93.7" y="672.06" width="10.2" height="7" fill="url(#pDark)" stroke="#111" stroke-width="0.6"/>
<text x="85.6" y="681.46" font-size="8.54" text-anchor="end" fill="#2a2a2a" color="#2a2a2a" textLength="54.76" lengthAdjust="spacingAndGlyphs">WEST BENGAL</text>
<rect x="93.7" y="703.92" width="5.1" height="6.8" fill="url(#pLight)" stroke="#444" stroke-width="0.7"/>
<rect x="93.7" y="696.92" width="5.1" height="7" fill="url(#pDark)" stroke="#111" stroke-width="0.6"/>
<text x="85.6" y="706.32" font-size="8.54" text-anchor="end" fill="#2a2a2a" color="#2a2a2a" textLength="28.72" lengthAdjust="spacingAndGlyphs">ORISSA</text>
<rect x="93.7" y="728.78" width="40.29" height="6.8" fill="url(#pLight)" stroke="#444" stroke-width="0.7"/>
<rect x="93.7" y="721.78" width="35.7" height="7" fill="url(#pDark)" stroke="#111" stroke-width="0.6"/>
<text x="85.6" y="731.18" font-size="8.54" text-anchor="end" fill="#2a2a2a" color="#2a2a2a" textLength="70.39" lengthAdjust="spacingAndGlyphs">MADHYA PRADESH</text>
<rect x="93.7" y="753.64" width="224.4" height="6.8" fill="url(#pLight)" stroke="#444" stroke-width="0.7"/>
<rect x="93.7" y="746.64" width="321.3" height="7" fill="url(#pDark)" stroke="#111" stroke-width="0.6"/>
<text x="85.6" y="756.04" font-size="8.54" text-anchor="end" fill="#2a2a2a" color="#2a2a2a" textLength="29.84" lengthAdjust="spacingAndGlyphs">GUJRAT</text>
<rect x="93.7" y="778.5" width="81.6" height="6.8" fill="url(#pLight)" stroke="#444" stroke-width="0.7"/>
<rect x="93.7" y="771.5" width="81.6" height="7" fill="url(#pDark)" stroke="#111" stroke-width="0.6"/>
<text x="85.6" y="780.9" font-size="8.54" text-anchor="end" fill="#2a2a2a" color="#2a2a2a" textLength="42.23" lengthAdjust="spacingAndGlyphs">MAHARAST</text>
<rect x="93.7" y="803.36" width="76.5" height="6.8" fill="url(#pLight)" stroke="#444" stroke-width="0.7"/>
<rect x="93.7" y="796.36" width="137.7" height="7" fill="url(#pDark)" stroke="#111" stroke-width="0.6"/>
<text x="85.6" y="805.76" font-size="8.54" text-anchor="end" fill="#2a2a2a" color="#2a2a2a" textLength="32.09" lengthAdjust="spacingAndGlyphs">ANDHRA</text>
<rect x="93.7" y="828.22" width="198.9" height="6.8" fill="url(#pLight)" stroke="#444" stroke-width="0.7"/>
<rect x="93.7" y="821.22" width="214.2" height="7" fill="url(#pDark)" stroke="#111" stroke-width="0.6"/>
<text x="85.6" y="830.62" font-size="8.54" text-anchor="end" fill="#2a2a2a" color="#2a2a2a" textLength="30.26" lengthAdjust="spacingAndGlyphs">KARNAT</text>
<rect x="93.7" y="853.08" width="102" height="6.8" fill="url(#pLight)" stroke="#444" stroke-width="0.7"/>
<rect x="93.7" y="846.08" width="76.5" height="7" fill="url(#pDark)" stroke="#111" stroke-width="0.6"/>
<text x="85.6" y="855.48" font-size="8.54" text-anchor="end" fill="#2a2a2a" color="#2a2a2a" textLength="45.18" lengthAdjust="spacingAndGlyphs">TAMIL NADU</text>
<rect x="93.7" y="877.94" width="66.3" height="6.8" fill="url(#pLight)" stroke="#444" stroke-width="0.7"/>
<rect x="93.7" y="870.94" width="61.2" height="7" fill="url(#pDark)" stroke="#111" stroke-width="0.6"/>
<text x="85.6" y="880.34" font-size="8.54" text-anchor="end" fill="#2a2a2a" color="#2a2a2a" textLength="29.99" lengthAdjust="spacingAndGlyphs">KERALA</text>
<text x="131" y="914" font-size="8" text-anchor="middle" fill="#2a2a2a" color="#2a2a2a">g/CU/day</text>
<rect x="199.5" y="909.6" width="3.4" height="3.4" fill="#111"/>
<text x="207.7" y="913.7" font-size="6.9" text-anchor="start" fill="#2a2a2a" color="#2a2a2a">2007-08</text>
<rect x="241.5" y="909.6" width="3.4" height="3.4" fill="#eee" stroke="#444" stroke-width="0.6"/>
<text x="250" y="913.7" font-size="6.9" text-anchor="start" fill="#2a2a2a" color="#2a2a2a">1998-99</text>
<rect x="10.5" y="934.5" width="451.7" height="312.7" fill="none" stroke="#6e6e6e" stroke-width="1.3" rx="1.5"/>
<polyline points="423.6,1247.2 423.6,1229.4 462.2,1229.4" fill="none" stroke="#3a3a3a" stroke-width="1.1"/>
<text x="443.7" y="1242" font-size="8.3" text-anchor="middle" fill="#111" color="#111" font-weight="bold">D</text>
<rect x="6.4" y="1066" width="8" height="24" fill="#fff"/>
<text x="12.92" y="1078" font-size="7" text-anchor="middle" fill="#222" color="#222" font-weight="bold" transform="rotate(-90 12.92 1078)">RDA</text>
<line x1="42.5" y1="953.3" x2="42.5" y2="1174.8" stroke="#707070" stroke-width="1.1"/>
<line x1="56.5" y1="944.1" x2="56.5" y2="1165.6" stroke="#707070" stroke-width="1"/>
<line x1="42.5" y1="1174.8" x2="56.5" y2="1165.6" stroke="#666" stroke-width="0.9"/>
<line x1="40" y1="1174.8" x2="42.5" y2="1174.8" stroke="#707070" stroke-width="1"/>
<line x1="56.5" y1="1165.6" x2="450.3" y2="1165.6" stroke="#707070" stroke-width="1.1"/>
<text x="35.2" y="1177.2" font-size="6.6" text-anchor="end" fill="#2a2a2a" color="#2a2a2a">0%</text>
<line x1="42.5" y1="1152.65" x2="56.5" y2="1143.45" stroke="#666" stroke-width="0.9"/>
<line x1="40" y1="1152.65" x2="42.5" y2="1152.65" stroke="#707070" stroke-width="1"/>
<line x1="56.5" y1="1143.45" x2="450.3" y2="1143.45" stroke="#707070" stroke-width="1.1"/>
<text x="35.2" y="1155.05" font-size="6.6" text-anchor="end" fill="#2a2a2a" color="#2a2a2a">10%</text>
<line x1="42.5" y1="1130.5" x2="56.5" y2="1121.3" stroke="#666" stroke-width="0.9"/>
<line x1="40" y1="1130.5" x2="42.5" y2="1130.5" stroke="#707070" stroke-width="1"/>
<line x1="56.5" y1="1121.3" x2="450.3" y2="1121.3" stroke="#707070" stroke-width="1.1"/>
<text x="35.2" y="1132.9" font-size="6.6" text-anchor="end" fill="#2a2a2a" color="#2a2a2a">20%</text>
<line x1="42.5" y1="1108.35" x2="56.5" y2="1099.15" stroke="#666" stroke-width="0.9"/>
<line x1="40" y1="1108.35" x2="42.5" y2="1108.35" stroke="#707070" stroke-width="1"/>
<line x1="56.5" y1="1099.15" x2="450.3" y2="1099.15" stroke="#707070" stroke-width="1.1"/>
<text x="35.2" y="1110.75" font-size="6.6" text-anchor="end" fill="#2a2a2a" color="#2a2a2a">30%</text>
<line x1="42.5" y1="1086.2" x2="56.5" y2="1077" stroke="#666" stroke-width="0.9"/>
<line x1="40" y1="1086.2" x2="42.5" y2="1086.2" stroke="#707070" stroke-width="1"/>
<line x1="56.5" y1="1077" x2="450.3" y2="1077" stroke="#707070" stroke-width="1.1"/>
<text x="35.2" y="1088.6" font-size="6.6" text-anchor="end" fill="#2a2a2a" color="#2a2a2a">40%</text>
<line x1="42.5" y1="1064.05" x2="56.5" y2="1054.85" stroke="#666" stroke-width="0.9"/>
<line x1="40" y1="1064.05" x2="42.5" y2="1064.05" stroke="#707070" stroke-width="1"/>
<line x1="56.5" y1="1054.85" x2="450.3" y2="1054.85" stroke="#707070" stroke-width="1.1"/>
<text x="35.2" y="1066.45" font-size="6.6" text-anchor="end" fill="#2a2a2a" color="#2a2a2a">50%</text>
<line x1="42.5" y1="1041.9" x2="56.5" y2="1032.7" stroke="#666" stroke-width="0.9"/>
<line x1="40" y1="1041.9" x2="42.5" y2="1041.9" stroke="#707070" stroke-width="1"/>
<line x1="56.5" y1="1032.7" x2="450.3" y2="1032.7" stroke="#707070" stroke-width="1.1"/>
<text x="35.2" y="1044.3" font-size="6.6" text-anchor="end" fill="#2a2a2a" color="#2a2a2a">60%</text>
<line x1="42.5" y1="1019.75" x2="56.5" y2="1010.55" stroke="#666" stroke-width="0.9"/>
<line x1="40" y1="1019.75" x2="42.5" y2="1019.75" stroke="#707070" stroke-width="1"/>
<line x1="56.5" y1="1010.55" x2="450.3" y2="1010.55" stroke="#707070" stroke-width="1.1"/>
<text x="35.2" y="1022.15" font-size="6.6" text-anchor="end" fill="#2a2a2a" color="#2a2a2a">70%</text>
<line x1="42.5" y1="997.6" x2="56.5" y2="988.4" stroke="#666" stroke-width="0.9"/>
<line x1="40" y1="997.6" x2="42.5" y2="997.6" stroke="#707070" stroke-width="1"/>
<line x1="56.5" y1="988.4" x2="450.3" y2="988.4" stroke="#707070" stroke-width="1.1"/>
<text x="35.2" y="1000" font-size="6.6" text-anchor="end" fill="#2a2a2a" color="#2a2a2a">80%</text>
<line x1="42.5" y1="975.45" x2="56.5" y2="966.25" stroke="#666" stroke-width="0.9"/>
<line x1="40" y1="975.45" x2="42.5" y2="975.45" stroke="#707070" stroke-width="1"/>
<line x1="56.5" y1="966.25" x2="450.3" y2="966.25" stroke="#707070" stroke-width="1.1"/>
<text x="35.2" y="977.85" font-size="6.6" text-anchor="end" fill="#2a2a2a" color="#2a2a2a">90%</text>
<line x1="42.5" y1="953.3" x2="56.5" y2="944.1" stroke="#666" stroke-width="0.9"/>
<line x1="40" y1="953.3" x2="42.5" y2="953.3" stroke="#707070" stroke-width="1"/>
<line x1="56.5" y1="944.1" x2="450.3" y2="944.1" stroke="#707070" stroke-width="1.1"/>
<text x="35.2" y="955.7" font-size="6.6" text-anchor="end" fill="#2a2a2a" color="#2a2a2a">100%</text>
<line x1="42.5" y1="1174.8" x2="438.7" y2="1174.8" stroke="#666" stroke-width="0.9"/>
<line x1="438.7" y1="1174.8" x2="450.3" y2="1165.6" stroke="#666" stroke-width="0.9"/>
<rect x="58.1" y="966.91" width="16" height="205.09" fill="url(#pHatch)" stroke="#333" stroke-width="0.6"/>
<polygon points="74.1,1172 79.6,1168.8 79.6,963.71 74.1,966.91" fill="#8a8a8a" stroke="#333" stroke-width="0.5"/>
<rect x="58.1" y="960.91" width="16" height="6" fill="#fff" stroke="#333" stroke-width="0.6"/>
<polygon points="74.1,966.91 79.6,963.71 79.6,957.71 74.1,960.91" fill="#bdbdbd" stroke="#333" stroke-width="0.5"/>
<rect x="58.1" y="949.8" width="16" height="11.11" fill="#000" stroke="#333" stroke-width="0.6"/>
<polygon points="74.1,960.91 79.6,957.71 79.6,946.6 74.1,949.8" fill="#000" stroke="#333" stroke-width="0.5"/>
<polygon points="58.1,949.8 63.6,946.6 79.6,946.6 74.1,949.8" fill="#000" stroke="#333" stroke-width="0.5"/>
<rect x="63.16" y="938.3" width="6.87" height="9" fill="#fff"/>
<text x="66.6" y="945.25" font-size="6.8" text-anchor="middle" fill="#111" color="#111">5</text>
<rect x="57.16" y="1064.95" width="17.89" height="9" fill="#fff"/>
<text x="66.1" y="1071.9" font-size="6.8" text-anchor="middle" fill="#111" color="#111">92.3</text>
<text x="64.1" y="1186.5" font-size="7.42" text-anchor="end" fill="#2a2a2a" color="#2a2a2a" transform="rotate(-43 64.1 1186.5)" textLength="26.05" lengthAdjust="spacingAndGlyphs">KERALA</text>
<rect x="97.6" y="964.69" width="16" height="207.31" fill="url(#pHatch)" stroke="#333" stroke-width="0.6"/>
<polygon points="113.6,1172 119.1,1168.8 119.1,961.49 113.6,964.69" fill="#8a8a8a" stroke="#333" stroke-width="0.5"/>
<rect x="97.6" y="959.13" width="16" height="5.56" fill="#fff" stroke="#333" stroke-width="0.6"/>
<polygon points="113.6,964.69 119.1,961.49 119.1,955.93 113.6,959.13" fill="#bdbdbd" stroke="#333" stroke-width="0.5"/>
<rect x="97.6" y="949.8" width="16" height="9.33" fill="#000" stroke="#333" stroke-width="0.6"/>
<polygon points="113.6,959.13 119.1,955.93 119.1,946.6 113.6,949.8" fill="#000" stroke="#333" stroke-width="0.5"/>
<polygon points="97.6,949.8 103.1,946.6 119.1,946.6 113.6,949.8" fill="#000" stroke="#333" stroke-width="0.5"/>
<rect x="98.89" y="938.3" width="14.22" height="9" fill="#fff"/>
<text x="106" y="945.25" font-size="6.8" text-anchor="middle" fill="#111" color="#111">4.2</text>
<rect x="96.66" y="1063.84" width="17.89" height="9" fill="#fff"/>
<text x="105.6" y="1070.79" font-size="6.8" text-anchor="middle" fill="#111" color="#111">93.3</text>
<text x="103.6" y="1186.5" font-size="7.42" text-anchor="end" fill="#2a2a2a" color="#2a2a2a" transform="rotate(-43 103.6 1186.5)" textLength="39.24" lengthAdjust="spacingAndGlyphs">TAMIL NADU</text>
<rect x="137.1" y="992.24" width="16" height="179.76" fill="url(#pHatch)" stroke="#333" stroke-width="0.6"/>
<polygon points="153.1,1172 158.6,1168.8 158.6,989.04 153.1,992.24" fill="#8a8a8a" stroke="#333" stroke-width="0.5"/>
<rect x="137.1" y="968.69" width="16" height="23.55" fill="#fff" stroke="#333" stroke-width="0.6"/>
<polygon points="153.1,992.24 158.6,989.04 158.6,965.49 153.1,968.69" fill="#bdbdbd" stroke="#333" stroke-width="0.5"/>
<rect x="137.1" y="949.8" width="16" height="18.89" fill="#000" stroke="#333" stroke-width="0.6"/>
<polygon points="153.1,968.69 158.6,965.49 158.6,946.6 153.1,949.8" fill="#000" stroke="#333" stroke-width="0.5"/>
<polygon points="137.1,949.8 142.6,946.6 158.6,946.6 153.1,949.8" fill="#000" stroke="#333" stroke-width="0.5"/>
<rect x="138.59" y="939.3" width="14.22" height="9" fill="#fff"/>
<text x="145.7" y="946.25" font-size="6.8" text-anchor="middle" fill="#111" color="#111">8.5</text>
<rect x="136.16" y="1077.62" width="17.89" height="9" fill="#fff"/>
<text x="145.1" y="1084.57" font-size="6.8" text-anchor="middle" fill="#111" color="#111">80.9</text>
<text x="143.1" y="1186.5" font-size="7.42" text-anchor="end" fill="#2a2a2a" color="#2a2a2a" transform="rotate(-43 143.1 1186.5)" textLength="26.28" lengthAdjust="spacingAndGlyphs">KARNAT</text>
<rect x="176.6" y="975.13" width="16" height="196.87" fill="url(#pHatch)" stroke="#333" stroke-width="0.6"/>
<polygon points="192.6,1172 198.1,1168.8 198.1,971.93 192.6,975.13" fill="#8a8a8a" stroke="#333" stroke-width="0.5"/>
<rect x="176.6" y="966.91" width="16" height="8.22" fill="#fff" stroke="#333" stroke-width="0.6"/>
<polygon points="192.6,975.13 198.1,971.93 198.1,963.71 192.6,966.91" fill="#bdbdbd" stroke="#333" stroke-width="0.5"/>
<rect x="176.6" y="949.8" width="16" height="17.11" fill="#000" stroke="#333" stroke-width="0.6"/>
<polygon points="192.6,966.91 198.1,963.71 198.1,946.6 192.6,949.8" fill="#000" stroke="#333" stroke-width="0.5"/>
<polygon points="176.6,949.8 182.1,946.6 198.1,946.6 192.6,949.8" fill="#000" stroke="#333" stroke-width="0.5"/>
<rect x="177.69" y="939.1" width="14.22" height="9" fill="#fff"/>
<text x="184.8" y="946.05" font-size="6.8" text-anchor="middle" fill="#111" color="#111">7.7</text>
<rect x="175.66" y="1069.07" width="17.89" height="9" fill="#fff"/>
<text x="184.6" y="1076.01" font-size="6.8" text-anchor="middle" fill="#111" color="#111">88.6</text>
<text x="182.6" y="1186.5" font-size="7.42" text-anchor="end" fill="#2a2a2a" color="#2a2a2a" transform="rotate(-43 182.6 1186.5)" textLength="27.87" lengthAdjust="spacingAndGlyphs">ANDHRA</text>
<rect x="216.1" y="960.47" width="16" height="211.53" fill="url(#pHatch)" stroke="#333" stroke-width="0.6"/>
<polygon points="232.1,1172 237.6,1168.8 237.6,957.27 232.1,960.47" fill="#8a8a8a" stroke="#333" stroke-width="0.5"/>
<rect x="216.1" y="954.69" width="16" height="5.78" fill="#fff" stroke="#333" stroke-width="0.6"/>
<polygon points="232.1,960.47 237.6,957.27 237.6,951.49 232.1,954.69" fill="#bdbdbd" stroke="#333" stroke-width="0.5"/>
<rect x="216.1" y="949.8" width="16" height="4.89" fill="#000" stroke="#333" stroke-width="0.6"/>
<polygon points="232.1,954.69 237.6,951.49 237.6,946.6 232.1,949.8" fill="#000" stroke="#333" stroke-width="0.5"/>
<polygon points="216.1,949.8 221.6,946.6 237.6,946.6 232.1,949.8" fill="#000" stroke="#333" stroke-width="0.5"/>
<rect x="217.19" y="936.8" width="14.22" height="9" fill="#fff"/>
<text x="224.3" y="943.75" font-size="6.8" text-anchor="middle" fill="#111" color="#111">2.2</text>
<rect x="215.16" y="1061.73" width="17.89" height="9" fill="#fff"/>
<text x="224.1" y="1068.68" font-size="6.8" text-anchor="middle" fill="#111" color="#111">95.2</text>
<text x="222.1" y="1186.5" font-size="7.42" text-anchor="end" fill="#2a2a2a" color="#2a2a2a" transform="rotate(-43 222.1 1186.5)" textLength="36.67" lengthAdjust="spacingAndGlyphs">MAHARAST</text>
<rect x="255.6" y="998.68" width="16" height="173.32" fill="url(#pHatch)" stroke="#333" stroke-width="0.6"/>
<polygon points="271.6,1172 277.1,1168.8 277.1,995.48 271.6,998.68" fill="#8a8a8a" stroke="#333" stroke-width="0.5"/>
<rect x="255.6" y="990.24" width="16" height="8.44" fill="#fff" stroke="#333" stroke-width="0.6"/>
<polygon points="271.6,998.68 277.1,995.48 277.1,987.04 271.6,990.24" fill="#bdbdbd" stroke="#333" stroke-width="0.5"/>
<rect x="255.6" y="949.8" width="16" height="40.44" fill="#000" stroke="#333" stroke-width="0.6"/>
<polygon points="271.6,990.24 277.1,987.04 277.1,946.6 271.6,949.8" fill="#000" stroke="#333" stroke-width="0.5"/>
<polygon points="255.6,949.8 261.1,946.6 277.1,946.6 271.6,949.8" fill="#000" stroke="#333" stroke-width="0.5"/>
<rect x="255.96" y="946.7" width="17.89" height="9" fill="#fff"/>
<text x="264.9" y="953.65" font-size="6.8" text-anchor="middle" fill="#111" color="#111">18.2</text>
<rect x="258.33" y="1080.84" width="10.54" height="9" fill="#fff"/>
<text x="263.6" y="1087.79" font-size="6.8" text-anchor="middle" fill="#111" color="#111">78</text>
<text x="261.6" y="1186.5" font-size="7.42" text-anchor="end" fill="#2a2a2a" color="#2a2a2a" transform="rotate(-43 261.6 1186.5)" textLength="25.91" lengthAdjust="spacingAndGlyphs">GUJRAT</text>
<rect x="295.1" y="954.02" width="16" height="217.98" fill="url(#pHatch)" stroke="#333" stroke-width="0.6"/>
<polygon points="311.1,1172 316.6,1168.8 316.6,950.82 311.1,954.02" fill="#8a8a8a" stroke="#333" stroke-width="0.5"/>
<rect x="295.1" y="952.47" width="16" height="1.56" fill="#fff" stroke="#333" stroke-width="0.6"/>
<polygon points="311.1,954.02 316.6,950.82 316.6,949.27 311.1,952.47" fill="#bdbdbd" stroke="#333" stroke-width="0.5"/>
<rect x="295.1" y="949.8" width="16" height="2.67" fill="#000" stroke="#333" stroke-width="0.6"/>
<polygon points="311.1,952.47 316.6,949.27 316.6,946.6 311.1,949.8" fill="#000" stroke="#333" stroke-width="0.5"/>
<polygon points="295.1,949.8 300.6,946.6 316.6,946.6 311.1,949.8" fill="#000" stroke="#333" stroke-width="0.5"/>
<rect x="296.09" y="936" width="14.22" height="9" fill="#fff"/>
<text x="303.2" y="942.95" font-size="6.8" text-anchor="middle" fill="#111" color="#111">1.2</text>
<rect x="294.16" y="1058.51" width="17.89" height="9" fill="#fff"/>
<text x="303.1" y="1065.46" font-size="6.8" text-anchor="middle" fill="#111" color="#111">98.1</text>
<text x="301.1" y="1186.5" font-size="7.42" text-anchor="end" fill="#2a2a2a" color="#2a2a2a" transform="rotate(-43 301.1 1186.5)" textLength="61.13" lengthAdjust="spacingAndGlyphs">MADHYA PRADESH</text>
<rect x="334.6" y="950.47" width="16" height="221.53" fill="url(#pHatch)" stroke="#333" stroke-width="0.6"/>
<polygon points="350.6,1172 356.1,1168.8 356.1,947.27 350.6,950.47" fill="#8a8a8a" stroke="#333" stroke-width="0.5"/>
<rect x="334.6" y="950.24" width="16" height="0.22" fill="#fff" stroke="#333" stroke-width="0.6"/>
<polygon points="350.6,950.47 356.1,947.27 356.1,947.04 350.6,950.24" fill="#bdbdbd" stroke="#333" stroke-width="0.5"/>
<rect x="334.6" y="949.8" width="16" height="0.44" fill="#000" stroke="#333" stroke-width="0.6"/>
<polygon points="350.6,950.24 356.1,947.04 356.1,946.6 350.6,949.8" fill="#000" stroke="#333" stroke-width="0.5"/>
<polygon points="334.6,949.8 340.1,946.6 356.1,946.6 350.6,949.8" fill="#000" stroke="#333" stroke-width="0.5"/>
<rect x="334.69" y="936" width="14.22" height="9" fill="#fff"/>
<text x="341.8" y="942.95" font-size="6.8" text-anchor="middle" fill="#111" color="#111">0.2</text>
<rect x="333.66" y="1056.73" width="17.89" height="9" fill="#fff"/>
<text x="342.6" y="1063.68" font-size="6.8" text-anchor="middle" fill="#111" color="#111">99.7</text>
<text x="340.6" y="1186.5" font-size="7.42" text-anchor="end" fill="#2a2a2a" color="#2a2a2a" transform="rotate(-43 340.6 1186.5)" textLength="24.94" lengthAdjust="spacingAndGlyphs">ORISSA</text>
<rect x="374.1" y="951.58" width="16" height="220.42" fill="url(#pHatch)" stroke="#333" stroke-width="0.6"/>
<polygon points="390.1,1172 395.6,1168.8 395.6,948.38 390.1,951.58" fill="#8a8a8a" stroke="#333" stroke-width="0.5"/>
<rect x="374.1" y="950.69" width="16" height="0.89" fill="#fff" stroke="#333" stroke-width="0.6"/>
<polygon points="390.1,951.58 395.6,948.38 395.6,947.49 390.1,950.69" fill="#bdbdbd" stroke="#333" stroke-width="0.5"/>
<rect x="374.1" y="949.8" width="16" height="0.89" fill="#000" stroke="#333" stroke-width="0.6"/>
<polygon points="390.1,950.69 395.6,947.49 395.6,946.6 390.1,949.8" fill="#000" stroke="#333" stroke-width="0.5"/>
<polygon points="374.1,949.8 379.6,946.6 395.6,946.6 390.1,949.8" fill="#000" stroke="#333" stroke-width="0.5"/>
<rect x="376.39" y="936" width="14.22" height="9" fill="#fff"/>
<text x="383.5" y="942.95" font-size="6.8" text-anchor="middle" fill="#111" color="#111">0.4</text>
<rect x="373.16" y="1057.29" width="17.89" height="9" fill="#fff"/>
<text x="382.1" y="1064.24" font-size="6.8" text-anchor="middle" fill="#111" color="#111">99.2</text>
<text x="380.1" y="1186.5" font-size="7.42" text-anchor="end" fill="#2a2a2a" color="#2a2a2a" transform="rotate(-43 380.1 1186.5)" textLength="47.56" lengthAdjust="spacingAndGlyphs">WEST BENGAL</text>
<rect x="413.6" y="968.46" width="16" height="203.54" fill="url(#pHatch)" stroke="#333" stroke-width="0.6"/>
<polygon points="429.6,1172 435.1,1168.8 435.1,965.26 429.6,968.46" fill="#8a8a8a" stroke="#333" stroke-width="0.5"/>
<rect x="413.6" y="962.02" width="16" height="6.44" fill="#fff" stroke="#333" stroke-width="0.6"/>
<polygon points="429.6,968.46 435.1,965.26 435.1,958.82 429.6,962.02" fill="#bdbdbd" stroke="#333" stroke-width="0.5"/>
<rect x="413.6" y="949.8" width="16" height="12.22" fill="#000" stroke="#333" stroke-width="0.6"/>
<polygon points="429.6,962.02 435.1,958.82 435.1,946.6 429.6,949.8" fill="#000" stroke="#333" stroke-width="0.5"/>
<polygon points="413.6,949.8 419.1,946.6 435.1,946.6 429.6,949.8" fill="#000" stroke="#333" stroke-width="0.5"/>
<rect x="415.19" y="937.5" width="14.22" height="9" fill="#fff"/>
<text x="422.3" y="944.45" font-size="6.8" text-anchor="middle" fill="#111" color="#111">5.5</text>
<rect x="412.66" y="1065.73" width="17.89" height="9" fill="#fff"/>
<text x="421.6" y="1072.68" font-size="6.8" text-anchor="middle" fill="#111" color="#111">91.6</text>
<text x="419.6" y="1186.5" font-size="7.42" text-anchor="end" fill="#2a2a2a" color="#2a2a2a" transform="rotate(-43 419.6 1186.5)" textLength="27.51" lengthAdjust="spacingAndGlyphs">POOLED</text>
<line x1="42.5" y1="1174.8" x2="42.5" y2="1178" stroke="#707070" stroke-width="0.9"/>
<line x1="82.1" y1="1174.8" x2="82.1" y2="1178" stroke="#707070" stroke-width="0.9"/>
<line x1="121.7" y1="1174.8" x2="121.7" y2="1178" stroke="#707070" stroke-width="0.9"/>
<line x1="161.3" y1="1174.8" x2="161.3" y2="1178" stroke="#707070" stroke-width="0.9"/>
<line x1="200.9" y1="1174.8" x2="200.9" y2="1178" stroke="#707070" stroke-width="0.9"/>
<line x1="240.5" y1="1174.8" x2="240.5" y2="1178" stroke="#707070" stroke-width="0.9"/>
<line x1="280.1" y1="1174.8" x2="280.1" y2="1178" stroke="#707070" stroke-width="0.9"/>
<line x1="319.7" y1="1174.8" x2="319.7" y2="1178" stroke="#707070" stroke-width="0.9"/>
<line x1="359.3" y1="1174.8" x2="359.3" y2="1178" stroke="#707070" stroke-width="0.9"/>
<line x1="398.9" y1="1174.8" x2="398.9" y2="1178" stroke="#707070" stroke-width="0.9"/>
<line x1="438.5" y1="1174.8" x2="438.5" y2="1178" stroke="#707070" stroke-width="0.9"/>
<rect x="175.4" y="1234.6" width="3.3" height="3.3" fill="#eee" stroke="#444" stroke-width="0.6"/>
<text x="183.8" y="1238.7" font-size="6.7" text-anchor="start" fill="#2a2a2a" color="#2a2a2a">&lt;50 RDI</text>
<rect x="219" y="1234.6" width="3.3" height="3.3" fill="#fff" stroke="#444" stroke-width="0.6"/>
<text x="227" y="1238.7" font-size="6.7" text-anchor="start" fill="#2a2a2a" color="#2a2a2a">50-70 RDI</text>
<rect x="267.4" y="1234.6" width="3.3" height="3.3" fill="#000"/>
<text x="275.7" y="1238.7" font-size="6.7" text-anchor="start" fill="#2a2a2a" color="#2a2a2a">&gt;70 RDI</text>
<rect x="12.9" y="1266.7" width="445.6" height="285.6" fill="none" stroke="#6e6e6e" stroke-width="1.3" rx="1.5"/>
<polyline points="420.2,1552.3 420.2,1536.3 458.5,1536.3" fill="none" stroke="#3a3a3a" stroke-width="1.1"/>
<text x="440.15" y="1548" font-size="8.3" text-anchor="middle" fill="#111" color="#111" font-weight="bold">E</text>
<line x1="83.4" y1="1521.4" x2="83.4" y2="1523.9" stroke="#707070" stroke-width="1"/>
<text x="83.4" y="1531.8" font-size="6.4" text-anchor="middle" fill="#2a2a2a" color="#2a2a2a">0</text>
<line x1="128.6" y1="1272.9" x2="128.6" y2="1521.4" stroke="#707070" stroke-width="1"/>
<line x1="128.6" y1="1521.4" x2="128.6" y2="1523.9" stroke="#707070" stroke-width="1"/>
<text x="128.6" y="1531.8" font-size="6.4" text-anchor="middle" fill="#2a2a2a" color="#2a2a2a">100</text>
<line x1="173.8" y1="1272.9" x2="173.8" y2="1521.4" stroke="#707070" stroke-width="1"/>
<line x1="173.8" y1="1521.4" x2="173.8" y2="1523.9" stroke="#707070" stroke-width="1"/>
<text x="173.8" y="1531.8" font-size="6.4" text-anchor="middle" fill="#2a2a2a" color="#2a2a2a">200</text>
<line x1="219" y1="1272.9" x2="219" y2="1521.4" stroke="#707070" stroke-width="1"/>
<line x1="219" y1="1521.4" x2="219" y2="1523.9" stroke="#707070" stroke-width="1"/>
<text x="219" y="1531.8" font-size="6.4" text-anchor="middle" fill="#2a2a2a" color="#2a2a2a">300</text>
<line x1="264.2" y1="1272.9" x2="264.2" y2="1521.4" stroke="#707070" stroke-width="1"/>
<line x1="264.2" y1="1521.4" x2="264.2" y2="1523.9" stroke="#707070" stroke-width="1"/>
<text x="264.2" y="1531.8" font-size="6.4" text-anchor="middle" fill="#2a2a2a" color="#2a2a2a">400</text>
<line x1="309.4" y1="1272.9" x2="309.4" y2="1521.4" stroke="#707070" stroke-width="1"/>
<line x1="309.4" y1="1521.4" x2="309.4" y2="1523.9" stroke="#707070" stroke-width="1"/>
<text x="309.4" y="1531.8" font-size="6.4" text-anchor="middle" fill="#2a2a2a" color="#2a2a2a">500</text>
<line x1="354.6" y1="1272.9" x2="354.6" y2="1521.4" stroke="#707070" stroke-width="1"/>
<line x1="354.6" y1="1521.4" x2="354.6" y2="1523.9" stroke="#707070" stroke-width="1"/>
<text x="354.6" y="1531.8" font-size="6.4" text-anchor="middle" fill="#2a2a2a" color="#2a2a2a">600</text>
<line x1="399.8" y1="1272.9" x2="399.8" y2="1521.4" stroke="#707070" stroke-width="1"/>
<line x1="399.8" y1="1521.4" x2="399.8" y2="1523.9" stroke="#707070" stroke-width="1"/>
<text x="399.8" y="1531.8" font-size="6.4" text-anchor="middle" fill="#2a2a2a" color="#2a2a2a">700</text>
<line x1="445" y1="1272.9" x2="445" y2="1521.4" stroke="#707070" stroke-width="1"/>
<line x1="445" y1="1521.4" x2="445" y2="1523.9" stroke="#707070" stroke-width="1"/>
<text x="445" y="1531.8" font-size="6.4" text-anchor="middle" fill="#2a2a2a" color="#2a2a2a">800</text>
<line x1="83.4" y1="1272.9" x2="83.4" y2="1521.4" stroke="#707070" stroke-width="1.1"/>
<line x1="83.4" y1="1521.4" x2="445" y2="1521.4" stroke="#707070" stroke-width="1.1"/>
<line x1="80.9" y1="1272.9" x2="83.4" y2="1272.9" stroke="#707070" stroke-width="1"/>
<line x1="80.9" y1="1297.73" x2="83.4" y2="1297.73" stroke="#707070" stroke-width="1"/>
<line x1="80.9" y1="1322.56" x2="83.4" y2="1322.56" stroke="#707070" stroke-width="1"/>
<line x1="80.9" y1="1347.39" x2="83.4" y2="1347.39" stroke="#707070" stroke-width="1"/>
<line x1="80.9" y1="1372.22" x2="83.4" y2="1372.22" stroke="#707070" stroke-width="1"/>
<line x1="80.9" y1="1397.05" x2="83.4" y2="1397.05" stroke="#707070" stroke-width="1"/>
<line x1="80.9" y1="1421.88" x2="83.4" y2="1421.88" stroke="#707070" stroke-width="1"/>
<line x1="80.9" y1="1446.71" x2="83.4" y2="1446.71" stroke="#707070" stroke-width="1"/>
<line x1="80.9" y1="1471.54" x2="83.4" y2="1471.54" stroke="#707070" stroke-width="1"/>
<line x1="80.9" y1="1496.37" x2="83.4" y2="1496.37" stroke="#707070" stroke-width="1"/>
<line x1="80.9" y1="1521.2" x2="83.4" y2="1521.2" stroke="#707070" stroke-width="1"/>
<rect x="83.4" y="1284.9" width="212.1" height="6.6" fill="url(#pLight)" stroke="#444" stroke-width="0.7"/>
<rect x="83.4" y="1278.3" width="189.2" height="6.6" fill="url(#pDark)" stroke="#111" stroke-width="0.6"/>
<text x="75.9" y="1287.3" font-size="6.85" text-anchor="end" fill="#2a2a2a" color="#2a2a2a" textLength="25.43" lengthAdjust="spacingAndGlyphs">POOLED</text>
<rect x="83.4" y="1309.73" width="320.6" height="6.6" fill="url(#pLight)" stroke="#444" stroke-width="0.7"/>
<rect x="83.4" y="1303.13" width="276.1" height="6.6" fill="url(#pDark)" stroke="#111" stroke-width="0.6"/>
<text x="75.9" y="1312.13" font-size="6.85" text-anchor="end" fill="#2a2a2a" color="#2a2a2a" textLength="43.96" lengthAdjust="spacingAndGlyphs">WEST BENGAL</text>
<rect x="83.4" y="1334.56" width="245.7" height="6.6" fill="url(#pLight)" stroke="#444" stroke-width="0.7"/>
<rect x="83.4" y="1327.96" width="206.6" height="6.6" fill="url(#pDark)" stroke="#111" stroke-width="0.6"/>
<text x="75.9" y="1336.96" font-size="6.85" text-anchor="end" fill="#2a2a2a" color="#2a2a2a" textLength="23.05" lengthAdjust="spacingAndGlyphs">ORISSA</text>
<rect x="83.4" y="1359.39" width="207.8" height="6.6" fill="url(#pLight)" stroke="#444" stroke-width="0.7"/>
<rect x="83.4" y="1352.79" width="170.6" height="6.6" fill="url(#pDark)" stroke="#111" stroke-width="0.6"/>
<text x="75.9" y="1361.79" font-size="6.85" text-anchor="end" fill="#2a2a2a" color="#2a2a2a" textLength="56.5" lengthAdjust="spacingAndGlyphs">MADHYA PRADESH</text>
<rect x="83.4" y="1384.22" width="189.8" height="6.6" fill="url(#pLight)" stroke="#444" stroke-width="0.7"/>
<rect x="83.4" y="1377.62" width="192.4" height="6.6" fill="url(#pDark)" stroke="#111" stroke-width="0.6"/>
<text x="75.9" y="1386.62" font-size="6.85" text-anchor="end" fill="#2a2a2a" color="#2a2a2a" textLength="23.95" lengthAdjust="spacingAndGlyphs">GUJRAT</text>
<rect x="83.4" y="1409.05" width="199.3" height="6.6" fill="url(#pLight)" stroke="#444" stroke-width="0.7"/>
<rect x="83.4" y="1402.45" width="180.6" height="6.6" fill="url(#pDark)" stroke="#111" stroke-width="0.6"/>
<text x="75.9" y="1411.45" font-size="6.85" text-anchor="end" fill="#2a2a2a" color="#2a2a2a" textLength="33.89" lengthAdjust="spacingAndGlyphs">MAHARAST</text>
<rect x="83.4" y="1433.88" width="269.8" height="6.6" fill="url(#pLight)" stroke="#444" stroke-width="0.7"/>
<rect x="83.4" y="1427.28" width="203.9" height="6.6" fill="url(#pDark)" stroke="#111" stroke-width="0.6"/>
<text x="75.9" y="1436.28" font-size="6.85" text-anchor="end" fill="#2a2a2a" color="#2a2a2a" textLength="25.76" lengthAdjust="spacingAndGlyphs">ANDHRA</text>
<rect x="83.4" y="1458.71" width="187.1" height="6.6" fill="url(#pLight)" stroke="#444" stroke-width="0.7"/>
<rect x="83.4" y="1452.11" width="177.9" height="6.6" fill="url(#pDark)" stroke="#111" stroke-width="0.6"/>
<text x="75.9" y="1461.11" font-size="6.85" text-anchor="end" fill="#2a2a2a" color="#2a2a2a" textLength="24.29" lengthAdjust="spacingAndGlyphs">KARNAT</text>
<rect x="83.4" y="1483.54" width="205.1" height="6.6" fill="url(#pLight)" stroke="#444" stroke-width="0.7"/>
<rect x="83.4" y="1476.94" width="179.4" height="6.6" fill="url(#pDark)" stroke="#111" stroke-width="0.6"/>
<text x="75.9" y="1485.94" font-size="6.85" text-anchor="end" fill="#2a2a2a" color="#2a2a2a" textLength="36.26" lengthAdjust="spacingAndGlyphs">TAMIL NADU</text>
<rect x="83.4" y="1508.37" width="138.4" height="6.6" fill="url(#pLight)" stroke="#444" stroke-width="0.7"/>
<rect x="83.4" y="1501.77" width="149.2" height="6.6" fill="url(#pDark)" stroke="#111" stroke-width="0.6"/>
<text x="75.9" y="1510.77" font-size="6.85" text-anchor="end" fill="#2a2a2a" color="#2a2a2a" textLength="24.07" lengthAdjust="spacingAndGlyphs">KERALA</text>
<text x="131" y="1545.8" font-size="8" text-anchor="middle" fill="#2a2a2a" color="#2a2a2a">g/CU/day</text>
<rect x="198.6" y="1541.5" width="3.4" height="3.4" fill="#111"/>
<text x="206.8" y="1545.6" font-size="6.9" text-anchor="start" fill="#2a2a2a" color="#2a2a2a">2007-08</text>
<rect x="240.9" y="1541.5" width="3.4" height="3.4" fill="#eee" stroke="#444" stroke-width="0.6"/>
<text x="249.4" y="1545.6" font-size="6.9" text-anchor="start" fill="#2a2a2a" color="#2a2a2a">1998-99</text>
<rect x="14.3" y="1565" width="444.1" height="299.4" fill="none" stroke="#6e6e6e" stroke-width="1.3" rx="1.5"/>
<polyline points="422.2,1864.4 422.2,1847.5 458.4,1847.5" fill="none" stroke="#3a3a3a" stroke-width="1.1"/>
<text x="441.1" y="1859.65" font-size="8.3" text-anchor="middle" fill="#111" color="#111" font-weight="bold">F</text>
<rect x="10.2" y="1689.8" width="8" height="23.4" fill="#fff"/>
<text x="16.72" y="1700.7" font-size="7" text-anchor="middle" fill="#222" color="#222" font-weight="bold" transform="rotate(-90 16.72 1700.7)">RDA</text>
<line x1="46.5" y1="1583.6" x2="46.5" y2="1793.6" stroke="#707070" stroke-width="1.1"/>
<line x1="59.6" y1="1573.2" x2="59.6" y2="1785.2" stroke="#707070" stroke-width="1"/>
<line x1="46.5" y1="1793.6" x2="59.6" y2="1785.2" stroke="#666" stroke-width="0.9"/>
<line x1="44" y1="1793.6" x2="46.5" y2="1793.6" stroke="#707070" stroke-width="1"/>
<line x1="59.6" y1="1785.2" x2="446.5" y2="1785.2" stroke="#707070" stroke-width="1.1"/>
<text x="38.6" y="1796" font-size="6.6" text-anchor="end" fill="#2a2a2a" color="#2a2a2a">0%</text>
<line x1="46.5" y1="1772.6" x2="59.6" y2="1764" stroke="#666" stroke-width="0.9"/>
<line x1="44" y1="1772.6" x2="46.5" y2="1772.6" stroke="#707070" stroke-width="1"/>
<line x1="59.6" y1="1764" x2="446.5" y2="1764" stroke="#707070" stroke-width="1.1"/>
<text x="38.6" y="1775" font-size="6.6" text-anchor="end" fill="#2a2a2a" color="#2a2a2a">10%</text>
<line x1="46.5" y1="1751.6" x2="59.6" y2="1742.8" stroke="#666" stroke-width="0.9"/>
<line x1="44" y1="1751.6" x2="46.5" y2="1751.6" stroke="#707070" stroke-width="1"/>
<line x1="59.6" y1="1742.8" x2="446.5" y2="1742.8" stroke="#707070" stroke-width="1.1"/>
<text x="38.6" y="1754" font-size="6.6" text-anchor="end" fill="#2a2a2a" color="#2a2a2a">20%</text>
<line x1="46.5" y1="1730.6" x2="59.6" y2="1721.6" stroke="#666" stroke-width="0.9"/>
<line x1="44" y1="1730.6" x2="46.5" y2="1730.6" stroke="#707070" stroke-width="1"/>
<line x1="59.6" y1="1721.6" x2="446.5" y2="1721.6" stroke="#707070" stroke-width="1.1"/>
<text x="38.6" y="1733" font-size="6.6" text-anchor="end" fill="#2a2a2a" color="#2a2a2a">30%</text>
<line x1="46.5" y1="1709.6" x2="59.6" y2="1700.4" stroke="#666" stroke-width="0.9"/>
<line x1="44" y1="1709.6" x2="46.5" y2="1709.6" stroke="#707070" stroke-width="1"/>
<line x1="59.6" y1="1700.4" x2="446.5" y2="1700.4" stroke="#707070" stroke-width="1.1"/>
<text x="38.6" y="1712" font-size="6.6" text-anchor="end" fill="#2a2a2a" color="#2a2a2a">40%</text>
<line x1="46.5" y1="1688.6" x2="59.6" y2="1679.2" stroke="#666" stroke-width="0.9"/>
<line x1="44" y1="1688.6" x2="46.5" y2="1688.6" stroke="#707070" stroke-width="1"/>
<line x1="59.6" y1="1679.2" x2="446.5" y2="1679.2" stroke="#707070" stroke-width="1.1"/>
<text x="38.6" y="1691" font-size="6.6" text-anchor="end" fill="#2a2a2a" color="#2a2a2a">50%</text>
<line x1="46.5" y1="1667.6" x2="59.6" y2="1658" stroke="#666" stroke-width="0.9"/>
<line x1="44" y1="1667.6" x2="46.5" y2="1667.6" stroke="#707070" stroke-width="1"/>
<line x1="59.6" y1="1658" x2="446.5" y2="1658" stroke="#707070" stroke-width="1.1"/>
<text x="38.6" y="1670" font-size="6.6" text-anchor="end" fill="#2a2a2a" color="#2a2a2a">60%</text>
<line x1="46.5" y1="1646.6" x2="59.6" y2="1636.8" stroke="#666" stroke-width="0.9"/>
<line x1="44" y1="1646.6" x2="46.5" y2="1646.6" stroke="#707070" stroke-width="1"/>
<line x1="59.6" y1="1636.8" x2="446.5" y2="1636.8" stroke="#707070" stroke-width="1.1"/>
<text x="38.6" y="1649" font-size="6.6" text-anchor="end" fill="#2a2a2a" color="#2a2a2a">70%</text>
<line x1="46.5" y1="1625.6" x2="59.6" y2="1615.6" stroke="#666" stroke-width="0.9"/>
<line x1="44" y1="1625.6" x2="46.5" y2="1625.6" stroke="#707070" stroke-width="1"/>
<line x1="59.6" y1="1615.6" x2="446.5" y2="1615.6" stroke="#707070" stroke-width="1.1"/>
<text x="38.6" y="1628" font-size="6.6" text-anchor="end" fill="#2a2a2a" color="#2a2a2a">80%</text>
<line x1="46.5" y1="1604.6" x2="59.6" y2="1594.4" stroke="#666" stroke-width="0.9"/>
<line x1="44" y1="1604.6" x2="46.5" y2="1604.6" stroke="#707070" stroke-width="1"/>
<line x1="59.6" y1="1594.4" x2="446.5" y2="1594.4" stroke="#707070" stroke-width="1.1"/>
<text x="38.6" y="1607" font-size="6.6" text-anchor="end" fill="#2a2a2a" color="#2a2a2a">90%</text>
<line x1="46.5" y1="1583.6" x2="59.6" y2="1573.2" stroke="#666" stroke-width="0.9"/>
<line x1="44" y1="1583.6" x2="46.5" y2="1583.6" stroke="#707070" stroke-width="1"/>
<line x1="59.6" y1="1573.2" x2="446.5" y2="1573.2" stroke="#707070" stroke-width="1.1"/>
<text x="38.6" y="1586" font-size="6.6" text-anchor="end" fill="#2a2a2a" color="#2a2a2a">100%</text>
<line x1="46.5" y1="1793.6" x2="433.8" y2="1793.6" stroke="#666" stroke-width="0.9"/>
<line x1="433.8" y1="1793.6" x2="446.5" y2="1785.2" stroke="#666" stroke-width="0.9"/>
<rect x="62.1" y="1754.55" width="15.4" height="37.35" fill="url(#pLight)" stroke="#333" stroke-width="0.6"/>
<polygon points="77.5,1791.9 82.7,1788.1 82.7,1750.75 77.5,1754.55" fill="#aaa" stroke="#333" stroke-width="0.5"/>
<rect x="62.1" y="1676.06" width="15.4" height="78.49" fill="url(#pMid)" stroke="#333" stroke-width="0.6"/>
<polygon points="77.5,1754.55 82.7,1750.75 82.7,1672.26 77.5,1676.06" fill="#5a5a5a" stroke="#333" stroke-width="0.5"/>
<rect x="62.1" y="1580.9" width="15.4" height="95.16" fill="#000" stroke="#333" stroke-width="0.6"/>
<polygon points="77.5,1676.06 82.7,1672.26 82.7,1577.1 77.5,1580.9" fill="#000" stroke="#333" stroke-width="0.5"/>
<polygon points="62.1,1580.9 67.3,1577.1 82.7,1577.1 77.5,1580.9" fill="#000" stroke="#333" stroke-width="0.5"/>
<rect x="60.73" y="1623" width="18.54" height="9" fill="#fff"/>
<text x="70" y="1630.06" font-size="7.1" text-anchor="middle" fill="#111" color="#111">45.1</text>
<rect x="60.73" y="1711.5" width="18.54" height="9" fill="#fff"/>
<text x="70" y="1718.56" font-size="7.1" text-anchor="middle" fill="#111" color="#111">37.2</text>
<text x="68.3" y="1803.5" font-size="7.19" text-anchor="end" fill="#2a2a2a" color="#2a2a2a" transform="rotate(-43 68.3 1803.5)" textLength="25.26" lengthAdjust="spacingAndGlyphs">KERALA</text>
<rect x="100.8" y="1789.16" width="15.4" height="2.74" fill="url(#pLight)" stroke="#333" stroke-width="0.6"/>
<polygon points="116.2,1791.9 121.4,1788.1 121.4,1785.36 116.2,1789.16" fill="#aaa" stroke="#333" stroke-width="0.5"/>
<rect x="100.8" y="1756.87" width="15.4" height="32.28" fill="url(#pMid)" stroke="#333" stroke-width="0.6"/>
<polygon points="116.2,1789.16 121.4,1785.36 121.4,1753.07 116.2,1756.87" fill="#5a5a5a" stroke="#333" stroke-width="0.5"/>
<rect x="100.8" y="1580.9" width="15.4" height="175.97" fill="#000" stroke="#333" stroke-width="0.6"/>
<polygon points="116.2,1756.87 121.4,1753.07 121.4,1577.1 116.2,1580.9" fill="#000" stroke="#333" stroke-width="0.5"/>
<polygon points="100.8,1580.9 106,1577.1 121.4,1577.1 116.2,1580.9" fill="#000" stroke="#333" stroke-width="0.5"/>
<rect x="98.73" y="1664.1" width="18.54" height="9" fill="#fff"/>
<text x="108" y="1671.16" font-size="7.1" text-anchor="middle" fill="#111" color="#111">83.4</text>
<rect x="105.53" y="1763.5" width="18.54" height="9" fill="#fff"/>
<text x="114.8" y="1770.56" font-size="7.1" text-anchor="middle" fill="#111" color="#111">15.3</text>
<text x="107" y="1803.5" font-size="7.19" text-anchor="end" fill="#2a2a2a" color="#2a2a2a" transform="rotate(-43 107 1803.5)" textLength="38.05" lengthAdjust="spacingAndGlyphs">TAMIL NADU</text>
<rect x="139.5" y="1781.56" width="15.4" height="10.34" fill="url(#pLight)" stroke="#333" stroke-width="0.6"/>
<polygon points="154.9,1791.9 160.1,1788.1 160.1,1777.76 154.9,1781.56" fill="#aaa" stroke="#333" stroke-width="0.5"/>
<rect x="139.5" y="1735.99" width="15.4" height="45.58" fill="url(#pMid)" stroke="#333" stroke-width="0.6"/>
<polygon points="154.9,1781.56 160.1,1777.76 160.1,1732.19 154.9,1735.99" fill="#5a5a5a" stroke="#333" stroke-width="0.5"/>
<rect x="139.5" y="1580.9" width="15.4" height="155.09" fill="#000" stroke="#333" stroke-width="0.6"/>
<polygon points="154.9,1735.99 160.1,1732.19 160.1,1577.1 154.9,1580.9" fill="#000" stroke="#333" stroke-width="0.5"/>
<polygon points="139.5,1580.9 144.7,1577.1 160.1,1577.1 154.9,1580.9" fill="#000" stroke="#333" stroke-width="0.5"/>
<rect x="137.23" y="1653.5" width="18.54" height="9" fill="#fff"/>
<text x="146.5" y="1660.56" font-size="7.1" text-anchor="middle" fill="#111" color="#111">73.5</text>
<rect x="148.13" y="1751.5" width="18.54" height="9" fill="#fff"/>
<text x="157.4" y="1758.56" font-size="7.1" text-anchor="middle" fill="#111" color="#111">21.6</text>
<text x="145.7" y="1803.5" font-size="7.19" text-anchor="end" fill="#2a2a2a" color="#2a2a2a" transform="rotate(-43 145.7 1803.5)" textLength="25.49" lengthAdjust="spacingAndGlyphs">KARNAT</text>
<rect x="178.2" y="1788.31" width="15.4" height="3.59" fill="url(#pLight)" stroke="#333" stroke-width="0.6"/>
<polygon points="193.6,1791.9 198.8,1788.1 198.8,1784.51 193.6,1788.31" fill="#aaa" stroke="#333" stroke-width="0.5"/>
<rect x="178.2" y="1763.63" width="15.4" height="24.69" fill="url(#pMid)" stroke="#333" stroke-width="0.6"/>
<polygon points="193.6,1788.31 198.8,1784.51 198.8,1759.83 193.6,1763.63" fill="#5a5a5a" stroke="#333" stroke-width="0.5"/>
<rect x="178.2" y="1580.9" width="15.4" height="182.73" fill="#000" stroke="#333" stroke-width="0.6"/>
<polygon points="193.6,1763.63 198.8,1759.83 198.8,1577.1 193.6,1580.9" fill="#000" stroke="#333" stroke-width="0.5"/>
<polygon points="178.2,1580.9 183.4,1577.1 198.8,1577.1 193.6,1580.9" fill="#000" stroke="#333" stroke-width="0.5"/>
<rect x="175.33" y="1667.2" width="18.54" height="9" fill="#fff"/>
<text x="184.6" y="1674.26" font-size="7.1" text-anchor="middle" fill="#111" color="#111">86.6</text>
<rect x="185.53" y="1770.3" width="18.54" height="9" fill="#fff"/>
<text x="194.8" y="1777.36" font-size="7.1" text-anchor="middle" fill="#111" color="#111">11.7</text>
<text x="184.4" y="1803.5" font-size="7.19" text-anchor="end" fill="#2a2a2a" color="#2a2a2a" transform="rotate(-43 184.4 1803.5)" textLength="27.03" lengthAdjust="spacingAndGlyphs">ANDHRA</text>
<rect x="216.9" y="1785.99" width="15.4" height="5.91" fill="url(#pLight)" stroke="#333" stroke-width="0.6"/>
<polygon points="232.3,1791.9 237.5,1788.1 237.5,1782.19 232.3,1785.99" fill="#aaa" stroke="#333" stroke-width="0.5"/>
<rect x="216.9" y="1744.21" width="15.4" height="41.78" fill="url(#pMid)" stroke="#333" stroke-width="0.6"/>
<polygon points="232.3,1785.99 237.5,1782.19 237.5,1740.41 232.3,1744.21" fill="#5a5a5a" stroke="#333" stroke-width="0.5"/>
<rect x="216.9" y="1580.9" width="15.4" height="163.31" fill="#000" stroke="#333" stroke-width="0.6"/>
<polygon points="232.3,1744.21 237.5,1740.41 237.5,1577.1 232.3,1580.9" fill="#000" stroke="#333" stroke-width="0.5"/>
<polygon points="216.9,1580.9 222.1,1577.1 237.5,1577.1 232.3,1580.9" fill="#000" stroke="#333" stroke-width="0.5"/>
<rect x="216.73" y="1657.5" width="18.54" height="9" fill="#fff"/>
<text x="226" y="1664.56" font-size="7.1" text-anchor="middle" fill="#111" color="#111">77.4</text>
<rect x="224.23" y="1755.5" width="18.54" height="9" fill="#fff"/>
<text x="233.5" y="1762.56" font-size="7.1" text-anchor="middle" fill="#111" color="#111">19.8</text>
<text x="223.1" y="1803.5" font-size="7.19" text-anchor="end" fill="#2a2a2a" color="#2a2a2a" transform="rotate(-43 223.1 1803.5)" textLength="35.56" lengthAdjust="spacingAndGlyphs">MAHARAST</text>
<rect x="255.6" y="1784.73" width="15.4" height="7.17" fill="url(#pLight)" stroke="#333" stroke-width="0.6"/>
<polygon points="271,1791.9 276.2,1788.1 276.2,1780.93 271,1784.73" fill="#aaa" stroke="#333" stroke-width="0.5"/>
<rect x="255.6" y="1754.13" width="15.4" height="30.6" fill="url(#pMid)" stroke="#333" stroke-width="0.6"/>
<polygon points="271,1784.73 276.2,1780.93 276.2,1750.33 271,1754.13" fill="#5a5a5a" stroke="#333" stroke-width="0.5"/>
<rect x="255.6" y="1580.9" width="15.4" height="173.23" fill="#000" stroke="#333" stroke-width="0.6"/>
<polygon points="271,1754.13 276.2,1750.33 276.2,1577.1 271,1580.9" fill="#000" stroke="#333" stroke-width="0.5"/>
<polygon points="255.6,1580.9 260.8,1577.1 276.2,1577.1 271,1580.9" fill="#000" stroke="#333" stroke-width="0.5"/>
<rect x="254.73" y="1660.5" width="18.54" height="9" fill="#fff"/>
<text x="264" y="1667.56" font-size="7.1" text-anchor="middle" fill="#111" color="#111">82.1</text>
<rect x="262.73" y="1762.5" width="18.54" height="9" fill="#fff"/>
<text x="272" y="1769.56" font-size="7.1" text-anchor="middle" fill="#111" color="#111">14.5</text>
<text x="261.8" y="1803.5" font-size="7.19" text-anchor="end" fill="#2a2a2a" color="#2a2a2a" transform="rotate(-43 261.8 1803.5)" textLength="25.13" lengthAdjust="spacingAndGlyphs">GUJRAT</text>
<rect x="294.3" y="1784.94" width="15.4" height="6.96" fill="url(#pLight)" stroke="#333" stroke-width="0.6"/>
<polygon points="309.7,1791.9 314.9,1788.1 314.9,1781.14 309.7,1784.94" fill="#aaa" stroke="#333" stroke-width="0.5"/>
<rect x="294.3" y="1735.77" width="15.4" height="49.16" fill="url(#pMid)" stroke="#333" stroke-width="0.6"/>
<polygon points="309.7,1784.94 314.9,1781.14 314.9,1731.97 309.7,1735.77" fill="#5a5a5a" stroke="#333" stroke-width="0.5"/>
<rect x="294.3" y="1580.9" width="15.4" height="154.87" fill="#000" stroke="#333" stroke-width="0.6"/>
<polygon points="309.7,1735.77 314.9,1731.97 314.9,1577.1 309.7,1580.9" fill="#000" stroke="#333" stroke-width="0.5"/>
<polygon points="294.3,1580.9 299.5,1577.1 314.9,1577.1 309.7,1580.9" fill="#000" stroke="#333" stroke-width="0.5"/>
<rect x="293.23" y="1652.5" width="18.54" height="9" fill="#fff"/>
<text x="302.5" y="1659.56" font-size="7.1" text-anchor="middle" fill="#111" color="#111">73.4</text>
<rect x="302.73" y="1750.1" width="18.54" height="9" fill="#fff"/>
<text x="312" y="1757.16" font-size="7.1" text-anchor="middle" fill="#111" color="#111">23.3</text>
<text x="300.5" y="1803.5" font-size="7.19" text-anchor="end" fill="#2a2a2a" color="#2a2a2a" transform="rotate(-43 300.5 1803.5)" textLength="59.27" lengthAdjust="spacingAndGlyphs">MADHYA PRADESH</text>
<rect x="333" y="1788.1" width="15.4" height="3.8" fill="url(#pMid)" stroke="#333" stroke-width="0.6"/>
<polygon points="348.4,1791.9 353.6,1788.1 353.6,1784.3 348.4,1788.1" fill="#5a5a5a" stroke="#333" stroke-width="0.5"/>
<rect x="333" y="1580.9" width="15.4" height="207.2" fill="#000" stroke="#333" stroke-width="0.6"/>
<polygon points="348.4,1788.1 353.6,1784.3 353.6,1577.1 348.4,1580.9" fill="#000" stroke="#333" stroke-width="0.5"/>
<polygon points="333,1580.9 338.2,1577.1 353.6,1577.1 348.4,1580.9" fill="#000" stroke="#333" stroke-width="0.5"/>
<rect x="331.73" y="1671.5" width="18.54" height="9" fill="#fff"/>
<text x="341" y="1678.56" font-size="7.1" text-anchor="middle" fill="#111" color="#111">98.2</text>
<rect x="350.55" y="1780.5" width="14.7" height="9" fill="#fff"/>
<text x="357.9" y="1787.56" font-size="7.1" text-anchor="middle" fill="#111" color="#111">1.8</text>
<text x="339.2" y="1803.5" font-size="7.19" text-anchor="end" fill="#2a2a2a" color="#2a2a2a" transform="rotate(-43 339.2 1803.5)" textLength="24.19" lengthAdjust="spacingAndGlyphs">ORISSA</text>
<rect x="371.7" y="1790" width="15.4" height="1.9" fill="url(#pLight)" stroke="#333" stroke-width="0.6"/>
<polygon points="387.1,1791.9 392.3,1788.1 392.3,1786.2 387.1,1790" fill="#aaa" stroke="#333" stroke-width="0.5"/>
<rect x="371.7" y="1781.14" width="15.4" height="8.86" fill="url(#pMid)" stroke="#333" stroke-width="0.6"/>
<polygon points="387.1,1790 392.3,1786.2 392.3,1777.34 387.1,1781.14" fill="#5a5a5a" stroke="#333" stroke-width="0.5"/>
<rect x="371.7" y="1580.9" width="15.4" height="200.24" fill="#000" stroke="#333" stroke-width="0.6"/>
<polygon points="387.1,1781.14 392.3,1777.34 392.3,1577.1 387.1,1580.9" fill="#000" stroke="#333" stroke-width="0.5"/>
<polygon points="371.7,1580.9 376.9,1577.1 392.3,1577.1 387.1,1580.9" fill="#000" stroke="#333" stroke-width="0.5"/>
<rect x="370.23" y="1668.5" width="18.54" height="9" fill="#fff"/>
<text x="379.5" y="1675.56" font-size="7.1" text-anchor="middle" fill="#111" color="#111">94.9</text>
<rect x="388.45" y="1776.9" width="14.7" height="9" fill="#fff"/>
<text x="395.8" y="1783.96" font-size="7.1" text-anchor="middle" fill="#111" color="#111">4.2</text>
<text x="377.9" y="1803.5" font-size="7.19" text-anchor="end" fill="#2a2a2a" color="#2a2a2a" transform="rotate(-43 377.9 1803.5)" textLength="46.12" lengthAdjust="spacingAndGlyphs">WEST BENGAL</text>
<rect x="410.4" y="1783.04" width="15.4" height="8.86" fill="url(#pLight)" stroke="#333" stroke-width="0.6"/>
<polygon points="425.8,1791.9 431,1788.1 431,1779.24 425.8,1783.04" fill="#aaa" stroke="#333" stroke-width="0.5"/>
<rect x="410.4" y="1746.96" width="15.4" height="36.08" fill="url(#pMid)" stroke="#333" stroke-width="0.6"/>
<polygon points="425.8,1783.04 431,1779.24 431,1743.16 425.8,1746.96" fill="#5a5a5a" stroke="#333" stroke-width="0.5"/>
<rect x="410.4" y="1580.9" width="15.4" height="166.06" fill="#000" stroke="#333" stroke-width="0.6"/>
<polygon points="425.8,1746.96 431,1743.16 431,1577.1 425.8,1580.9" fill="#000" stroke="#333" stroke-width="0.5"/>
<polygon points="410.4,1580.9 415.6,1577.1 431,1577.1 425.8,1580.9" fill="#000" stroke="#333" stroke-width="0.5"/>
<rect x="408.73" y="1659.5" width="18.54" height="9" fill="#fff"/>
<text x="418" y="1666.56" font-size="7.1" text-anchor="middle" fill="#111" color="#111">78.7</text>
<rect x="426.33" y="1757.3" width="18.54" height="9" fill="#fff"/>
<text x="435.6" y="1764.36" font-size="7.1" text-anchor="middle" fill="#111" color="#111">17.1</text>
<text x="416.6" y="1803.5" font-size="7.19" text-anchor="end" fill="#2a2a2a" color="#2a2a2a" transform="rotate(-43 416.6 1803.5)" textLength="26.68" lengthAdjust="spacingAndGlyphs">POOLED</text>
<line x1="46.5" y1="1793.6" x2="46.5" y2="1796.8" stroke="#707070" stroke-width="0.9"/>
<line x1="85.23" y1="1793.6" x2="85.23" y2="1796.8" stroke="#707070" stroke-width="0.9"/>
<line x1="123.96" y1="1793.6" x2="123.96" y2="1796.8" stroke="#707070" stroke-width="0.9"/>
<line x1="162.69" y1="1793.6" x2="162.69" y2="1796.8" stroke="#707070" stroke-width="0.9"/>
<line x1="201.42" y1="1793.6" x2="201.42" y2="1796.8" stroke="#707070" stroke-width="0.9"/>
<line x1="240.15" y1="1793.6" x2="240.15" y2="1796.8" stroke="#707070" stroke-width="0.9"/>
<line x1="278.88" y1="1793.6" x2="278.88" y2="1796.8" stroke="#707070" stroke-width="0.9"/>
<line x1="317.61" y1="1793.6" x2="317.61" y2="1796.8" stroke="#707070" stroke-width="0.9"/>
<line x1="356.34" y1="1793.6" x2="356.34" y2="1796.8" stroke="#707070" stroke-width="0.9"/>
<line x1="395.07" y1="1793.6" x2="395.07" y2="1796.8" stroke="#707070" stroke-width="0.9"/>
<line x1="433.8" y1="1793.6" x2="433.8" y2="1796.8" stroke="#707070" stroke-width="0.9"/>
<text x="446.5" y="1763.5" font-size="7" text-anchor="middle" fill="#2a2a2a" color="#2a2a2a">.</text>
<rect x="105.8" y="1849.1" width="3.7" height="3.7" fill="#eee" stroke="#444" stroke-width="0.6"/>
<text x="114.6" y="1853.5" font-size="6.9" text-anchor="start" fill="#2a2a2a" color="#2a2a2a">&lt;50  RDI</text>
<rect x="215.4" y="1849.1" width="3.7" height="3.7" fill="#777" stroke="#444" stroke-width="0.6"/>
<text x="223.1" y="1853.5" font-size="6.9" text-anchor="start" fill="#2a2a2a" color="#2a2a2a">50-70  RDI</text>
<rect x="329.2" y="1849.1" width="3.7" height="3.7" fill="#000"/>
<text x="338.6" y="1853.5" font-size="6.9" text-anchor="start" fill="#2a2a2a" color="#2a2a2a">&gt;70 RDI</text>
<rect x="13.3" y="1882.8" width="447" height="295.5" fill="none" stroke="#6e6e6e" stroke-width="1.3" rx="1.5"/>
<polyline points="421.9,2178.3 421.9,2162.5 460.3,2162.5" fill="none" stroke="#3a3a3a" stroke-width="1.1"/>
<text x="441.9" y="2174.1" font-size="8.3" text-anchor="middle" fill="#111" color="#111" font-weight="bold">G</text>
<rect x="7.8" y="2007.4" width="8" height="23.8" fill="#fff"/>
<text x="14.32" y="2019.3" font-size="7" text-anchor="middle" fill="#222" color="#222" font-weight="bold" transform="rotate(-90 14.32 2019.3)">RDA</text>
<line x1="32.6" y1="2146.7" x2="454.7" y2="2146.7" stroke="#8c8c8c" stroke-width="1.1"/>
<text x="29.2" y="2149.2" font-size="7" text-anchor="end" fill="#2a2a2a" color="#2a2a2a">0</text>
<line x1="32.6" y1="2109.99" x2="454.7" y2="2109.99" stroke="#8c8c8c" stroke-width="1.1"/>
<text x="29.2" y="2112.49" font-size="7" text-anchor="end" fill="#2a2a2a" color="#2a2a2a">100</text>
<line x1="32.6" y1="2073.28" x2="454.7" y2="2073.28" stroke="#8c8c8c" stroke-width="1.1"/>
<text x="29.2" y="2075.78" font-size="7" text-anchor="end" fill="#2a2a2a" color="#2a2a2a">200</text>
<line x1="32.6" y1="2036.57" x2="454.7" y2="2036.57" stroke="#8c8c8c" stroke-width="1.1"/>
<text x="29.2" y="2039.07" font-size="7" text-anchor="end" fill="#2a2a2a" color="#2a2a2a">300</text>
<line x1="32.6" y1="1999.86" x2="454.7" y2="1999.86" stroke="#8c8c8c" stroke-width="1.1"/>
<text x="29.2" y="2002.36" font-size="7" text-anchor="end" fill="#2a2a2a" color="#2a2a2a">400</text>
<line x1="32.6" y1="1963.15" x2="454.7" y2="1963.15" stroke="#8c8c8c" stroke-width="1.1"/>
<text x="29.2" y="1965.65" font-size="7" text-anchor="end" fill="#2a2a2a" color="#2a2a2a">500</text>
<line x1="32.6" y1="1926.44" x2="454.7" y2="1926.44" stroke="#8c8c8c" stroke-width="1.1"/>
<text x="29.2" y="1928.94" font-size="7" text-anchor="end" fill="#2a2a2a" color="#2a2a2a">600</text>
<line x1="32.6" y1="1889.73" x2="454.7" y2="1889.73" stroke="#8c8c8c" stroke-width="1.1"/>
<text x="29.2" y="1892.23" font-size="7" text-anchor="end" fill="#2a2a2a" color="#2a2a2a">700</text>
<line x1="35.6" y1="1889.73" x2="35.6" y2="2146.7" stroke="#707070" stroke-width="1.1"/>
<line x1="35.6" y1="2146.7" x2="35.6" y2="2149.7" stroke="#707070" stroke-width="1"/>
<line x1="82.17" y1="2146.7" x2="82.17" y2="2149.7" stroke="#707070" stroke-width="1"/>
<line x1="128.73" y1="2146.7" x2="128.73" y2="2149.7" stroke="#707070" stroke-width="1"/>
<line x1="175.3" y1="2146.7" x2="175.3" y2="2149.7" stroke="#707070" stroke-width="1"/>
<line x1="221.87" y1="2146.7" x2="221.87" y2="2149.7" stroke="#707070" stroke-width="1"/>
<line x1="268.43" y1="2146.7" x2="268.43" y2="2149.7" stroke="#707070" stroke-width="1"/>
<line x1="315" y1="2146.7" x2="315" y2="2149.7" stroke="#707070" stroke-width="1"/>
<line x1="361.57" y1="2146.7" x2="361.57" y2="2149.7" stroke="#707070" stroke-width="1"/>
<line x1="408.13" y1="2146.7" x2="408.13" y2="2149.7" stroke="#707070" stroke-width="1"/>
<line x1="454.7" y1="2146.7" x2="454.7" y2="2149.7" stroke="#707070" stroke-width="1"/>
<text x="58.88" y="2158.3" font-size="7.04" text-anchor="middle" fill="#2a2a2a" color="#2a2a2a" textLength="19.29" lengthAdjust="spacingAndGlyphs">1-3Yrs</text>
<text x="105.45" y="2158.3" font-size="7.04" text-anchor="middle" fill="#2a2a2a" color="#2a2a2a" textLength="20.99" lengthAdjust="spacingAndGlyphs">4-6 Yrs</text>
<text x="152.02" y="2158.3" font-size="7.04" text-anchor="middle" fill="#2a2a2a" color="#2a2a2a" textLength="20.99" lengthAdjust="spacingAndGlyphs">7-9 Yrs</text>
<text x="198.58" y="2158.3" font-size="7.04" text-anchor="middle" fill="#2a2a2a" color="#2a2a2a" textLength="36.77" lengthAdjust="spacingAndGlyphs">10-12 BOYS</text>
<text x="245.15" y="2158.3" font-size="7.04" text-anchor="middle" fill="#2a2a2a" color="#2a2a2a" textLength="38.23" lengthAdjust="spacingAndGlyphs">10-12 GIRLS</text>
<text x="291.72" y="2158.3" font-size="7.04" text-anchor="middle" fill="#2a2a2a" color="#2a2a2a" textLength="36.77" lengthAdjust="spacingAndGlyphs">13-15 BOYS</text>
<text x="338.28" y="2158.3" font-size="7.04" text-anchor="middle" fill="#2a2a2a" color="#2a2a2a" textLength="38.23" lengthAdjust="spacingAndGlyphs">13-15 GIRLS</text>
<text x="384.85" y="2158.3" font-size="7.04" text-anchor="middle" fill="#2a2a2a" color="#2a2a2a" textLength="14.56" lengthAdjust="spacingAndGlyphs">MEN</text>
<text x="431.42" y="2158.3" font-size="7.04" text-anchor="middle" fill="#2a2a2a" color="#2a2a2a" textLength="25.83" lengthAdjust="spacingAndGlyphs">WOMEN</text>
<polyline points="58.88,1963.15 105.45,1999.86 152.02,1999.86 198.58,1926.44 245.15,1926.44 291.72,1926.44 338.28,1926.44 384.85,1999.86 431.42,1999.86" fill="none" stroke="#404040" stroke-width="1.1"/>
<polyline points="58.88,2068.87 105.45,2040.24 152.02,2010.14 198.58,1988.85 245.15,2008.3 291.72,1993.62 338.28,1988.85 384.85,1947.73 431.42,1971.59" fill="none" stroke="#000" stroke-width="1.4" stroke-dasharray="4.2,2.6"/>
<polyline points="58.88,2086.13 105.45,2067.77 152.02,2053.82 198.58,2044.28 245.15,2002.43 291.72,2022.62 338.28,2026.29 384.85,1993.62 431.42,1996.56" fill="none" stroke="#000" stroke-width="1.3" stroke-dasharray="1.1,1.3"/>
<polyline points="58.88,2097.51 105.45,2079.52 152.02,2068.14 198.58,2056.03 245.15,2059.7 291.72,2046.11 338.28,2050.15 384.85,2026.29 431.42,2036.94" fill="none" stroke="#000" stroke-width="1.5"/>
<circle cx="58.88" cy="2068.87" r="2.3" fill="#000"/>
<polygon points="58.88,2083.38 61.41,2088 56.35,2088" fill="#000"/>
<rect x="56.68" y="2095.31" width="4.4" height="4.4" fill="#000"/>
<circle cx="105.45" cy="2040.24" r="2.3" fill="#000"/>
<polygon points="105.45,2065.02 107.98,2069.64 102.92,2069.64" fill="#000"/>
<rect x="103.25" y="2077.32" width="4.4" height="4.4" fill="#000"/>
<circle cx="152.02" cy="2010.14" r="2.3" fill="#000"/>
<polygon points="152.02,2051.07 154.55,2055.69 149.49,2055.69" fill="#000"/>
<rect x="149.82" y="2065.94" width="4.4" height="4.4" fill="#000"/>
<circle cx="198.58" cy="1988.85" r="2.3" fill="#000"/>
<polygon points="198.58,2041.53 201.11,2046.15 196.05,2046.15" fill="#000"/>
<rect x="196.38" y="2053.83" width="4.4" height="4.4" fill="#000"/>
<circle cx="245.15" cy="2008.3" r="2.3" fill="#000"/>
<polygon points="245.15,1999.68 247.68,2004.3 242.62,2004.3" fill="#000"/>
<rect x="242.95" y="2057.5" width="4.4" height="4.4" fill="#000"/>
<circle cx="291.72" cy="1993.62" r="2.3" fill="#000"/>
<polygon points="291.72,2019.87 294.25,2024.49 289.19,2024.49" fill="#000"/>
<rect x="289.52" y="2043.91" width="4.4" height="4.4" fill="#000"/>
<circle cx="338.28" cy="1988.85" r="2.3" fill="#000"/>
<polygon points="338.28,2023.54 340.81,2028.16 335.75,2028.16" fill="#000"/>
<rect x="336.08" y="2047.95" width="4.4" height="4.4" fill="#000"/>
<circle cx="384.85" cy="1947.73" r="2.3" fill="#000"/>
<polygon points="384.85,1990.87 387.38,1995.49 382.32,1995.49" fill="#000"/>
<rect x="382.65" y="2024.09" width="4.4" height="4.4" fill="#000"/>
<circle cx="431.42" cy="1971.59" r="2.3" fill="#000"/>
<polygon points="431.42,1993.81 433.95,1998.43 428.89,1998.43" fill="#000"/>
<rect x="429.22" y="2034.74" width="4.4" height="4.4" fill="#000"/>
<text x="59.1" y="1957.4" font-size="7" text-anchor="middle" fill="#2a2a2a" color="#2a2a2a">500</text>
<text x="106" y="1994.8" font-size="7" text-anchor="middle" fill="#2a2a2a" color="#2a2a2a">400</text>
<text x="151.5" y="1994.8" font-size="7" text-anchor="middle" fill="#2a2a2a" color="#2a2a2a">400</text>
<text x="197.9" y="1920.4" font-size="7" text-anchor="middle" fill="#2a2a2a" color="#2a2a2a">600</text>
<text x="244.3" y="1920.4" font-size="7" text-anchor="middle" fill="#2a2a2a" color="#2a2a2a">600</text>
<text x="291.4" y="1920.4" font-size="7" text-anchor="middle" fill="#2a2a2a" color="#2a2a2a">600</text>
<text x="337.2" y="1920.9" font-size="7" text-anchor="middle" fill="#2a2a2a" color="#2a2a2a">600</text>
<text x="381.4" y="1985.9" font-size="7" text-anchor="middle" fill="#2a2a2a" color="#2a2a2a">400</text>
<text x="438" y="1997.8" font-size="7" text-anchor="middle" fill="#2a2a2a" color="#2a2a2a">400</text>
<line x1="142.8" y1="2169.8" x2="156.4" y2="2169.8" stroke="#000" stroke-width="1.4"/>
<circle cx="149.6" cy="2169.8" r="2.2" fill="#000"/>
<text x="159.8" y="2172.3" font-size="7.1" text-anchor="start" fill="#2a2a2a" color="#2a2a2a">1985-87</text>
<line x1="193.8" y1="2169.8" x2="210.9" y2="2169.8" stroke="#000" stroke-width="1.3" stroke-dasharray="1.1,1.3"/>
<polygon points="202.3,2167.18 204.72,2171.59 199.89,2171.59" fill="#000"/>
<text x="214.3" y="2172.3" font-size="7.1" text-anchor="start" fill="#2a2a2a" color="#2a2a2a">1998-99</text>
<line x1="249" y1="2169.8" x2="262.8" y2="2169.8" stroke="#000" stroke-width="1.5"/>
<rect x="253.8" y="2167.7" width="4.2" height="4.2" fill="#000"/>
<text x="265.3" y="2172.3" font-size="7.1" text-anchor="start" fill="#2a2a2a" color="#2a2a2a">2007-08</text>
<line x1="302.3" y1="2169.8" x2="318.5" y2="2169.8" stroke="#404040" stroke-width="1.1"/>
<text x="320.6" y="2172.3" font-size="7.1" text-anchor="start" fill="#2a2a2a" color="#2a2a2a">RDA</text>
<rect x="9.2" y="2190.2" width="454" height="304" fill="none" stroke="#6e6e6e" stroke-width="1.3" rx="1.5"/>
<polyline points="424,2494.2 424,2478 463.2,2478" fill="none" stroke="#3a3a3a" stroke-width="1.1"/>
<text x="444.4" y="2489.8" font-size="8.3" text-anchor="middle" fill="#111" color="#111" font-weight="bold">H</text>
<line x1="40.6" y1="2442.5" x2="431.2" y2="2442.5" stroke="#808080" stroke-width="1.1"/>
<text x="38.4" y="2444.5" font-size="5.6" text-anchor="end" fill="#2a2a2a" color="#2a2a2a">0</text>
<line x1="431.2" y1="2442.5" x2="433.7" y2="2442.5" stroke="#707070" stroke-width="1"/>
<text x="440.6" y="2444.5" font-size="5.8" text-anchor="middle" fill="#2a2a2a" color="#2a2a2a">0</text>
<line x1="40.6" y1="2401.45" x2="431.2" y2="2401.45" stroke="#808080" stroke-width="1.1"/>
<text x="38.4" y="2403.45" font-size="5.6" text-anchor="end" fill="#2a2a2a" color="#2a2a2a">100</text>
<line x1="431.2" y1="2401.45" x2="433.7" y2="2401.45" stroke="#707070" stroke-width="1"/>
<text x="440.6" y="2403.45" font-size="5.8" text-anchor="middle" fill="#2a2a2a" color="#2a2a2a">5</text>
<line x1="40.6" y1="2360.4" x2="431.2" y2="2360.4" stroke="#808080" stroke-width="1.1"/>
<text x="38.4" y="2362.4" font-size="5.6" text-anchor="end" fill="#2a2a2a" color="#2a2a2a">200</text>
<line x1="431.2" y1="2360.4" x2="433.7" y2="2360.4" stroke="#707070" stroke-width="1"/>
<text x="440.6" y="2362.4" font-size="5.8" text-anchor="middle" fill="#2a2a2a" color="#2a2a2a">10</text>
<line x1="40.6" y1="2319.35" x2="431.2" y2="2319.35" stroke="#808080" stroke-width="1.1"/>
<text x="38.4" y="2321.35" font-size="5.6" text-anchor="end" fill="#2a2a2a" color="#2a2a2a">300</text>
<line x1="431.2" y1="2319.35" x2="433.7" y2="2319.35" stroke="#707070" stroke-width="1"/>
<text x="440.6" y="2321.35" font-size="5.8" text-anchor="middle" fill="#2a2a2a" color="#2a2a2a">15</text>
<line x1="40.6" y1="2278.3" x2="431.2" y2="2278.3" stroke="#808080" stroke-width="1.1"/>
<text x="38.4" y="2280.3" font-size="5.6" text-anchor="end" fill="#2a2a2a" color="#2a2a2a">400</text>
<line x1="431.2" y1="2278.3" x2="433.7" y2="2278.3" stroke="#707070" stroke-width="1"/>
<text x="440.6" y="2280.3" font-size="5.8" text-anchor="middle" fill="#2a2a2a" color="#2a2a2a">20</text>
<line x1="40.6" y1="2237.25" x2="431.2" y2="2237.25" stroke="#808080" stroke-width="1.1"/>
<text x="38.4" y="2239.25" font-size="5.6" text-anchor="end" fill="#2a2a2a" color="#2a2a2a">500</text>
<line x1="431.2" y1="2237.25" x2="433.7" y2="2237.25" stroke="#707070" stroke-width="1"/>
<text x="440.6" y="2239.25" font-size="5.8" text-anchor="middle" fill="#2a2a2a" color="#2a2a2a">25</text>
<line x1="40.6" y1="2196.2" x2="431.2" y2="2196.2" stroke="#808080" stroke-width="1.1"/>
<text x="38.4" y="2198.2" font-size="5.6" text-anchor="end" fill="#2a2a2a" color="#2a2a2a">600</text>
<line x1="431.2" y1="2196.2" x2="433.7" y2="2196.2" stroke="#707070" stroke-width="1"/>
<text x="440.6" y="2198.2" font-size="5.8" text-anchor="middle" fill="#2a2a2a" color="#2a2a2a">30</text>
<line x1="43.6" y1="2196.2" x2="43.6" y2="2442.5" stroke="#707070" stroke-width="1.1"/>
<line x1="431.2" y1="2196.2" x2="431.2" y2="2442.5" stroke="#707070" stroke-width="1.1"/>
<line x1="43.6" y1="2442.5" x2="43.6" y2="2445.5" stroke="#707070" stroke-width="1"/>
<line x1="86.67" y1="2442.5" x2="86.67" y2="2445.5" stroke="#707070" stroke-width="1"/>
<line x1="129.73" y1="2442.5" x2="129.73" y2="2445.5" stroke="#707070" stroke-width="1"/>
<line x1="172.8" y1="2442.5" x2="172.8" y2="2445.5" stroke="#707070" stroke-width="1"/>
<line x1="215.87" y1="2442.5" x2="215.87" y2="2445.5" stroke="#707070" stroke-width="1"/>
<line x1="258.93" y1="2442.5" x2="258.93" y2="2445.5" stroke="#707070" stroke-width="1"/>
<line x1="302" y1="2442.5" x2="302" y2="2445.5" stroke="#707070" stroke-width="1"/>
<line x1="345.07" y1="2442.5" x2="345.07" y2="2445.5" stroke="#707070" stroke-width="1"/>
<line x1="388.13" y1="2442.5" x2="388.13" y2="2445.5" stroke="#707070" stroke-width="1"/>
<line x1="431.2" y1="2442.5" x2="431.2" y2="2445.5" stroke="#707070" stroke-width="1"/>
<rect x="51.5" y="2364.51" width="9.6" height="77.99" fill="url(#pH1)" stroke="#444" stroke-width="0.7"/>
<rect x="61.1" y="2401.45" width="9.6" height="41.05" fill="url(#pH2)" stroke="#444" stroke-width="0.7"/>
<rect x="70.7" y="2380.51" width="9.6" height="61.99" fill="url(#pH3)" stroke="#444" stroke-width="0.7"/>
<rect x="94.46" y="2327.97" width="9.6" height="114.53" fill="url(#pH1)" stroke="#444" stroke-width="0.7"/>
<rect x="104.06" y="2347.26" width="9.6" height="95.24" fill="url(#pH2)" stroke="#444" stroke-width="0.7"/>
<rect x="113.66" y="2346.44" width="9.6" height="96.06" fill="url(#pH3)" stroke="#444" stroke-width="0.7"/>
<rect x="137.42" y="2304.57" width="9.6" height="137.93" fill="url(#pH1)" stroke="#444" stroke-width="0.7"/>
<rect x="147.02" y="2323.87" width="9.6" height="118.63" fill="url(#pH2)" stroke="#444" stroke-width="0.7"/>
<rect x="156.62" y="2323.04" width="9.6" height="119.46" fill="url(#pH3)" stroke="#444" stroke-width="0.7"/>
<rect x="180.38" y="2273.78" width="9.6" height="168.72" fill="url(#pH1)" stroke="#444" stroke-width="0.7"/>
<rect x="189.98" y="2299.65" width="9.6" height="142.85" fill="url(#pH2)" stroke="#444" stroke-width="0.7"/>
<rect x="199.58" y="2305.39" width="9.6" height="137.11" fill="url(#pH3)" stroke="#444" stroke-width="0.7"/>
<rect x="223.34" y="2288.15" width="9.6" height="154.35" fill="url(#pH1)" stroke="#444" stroke-width="0.7"/>
<rect x="232.94" y="2302.11" width="9.6" height="140.39" fill="url(#pH2)" stroke="#444" stroke-width="0.7"/>
<rect x="242.54" y="2310.32" width="9.6" height="132.18" fill="url(#pH3)" stroke="#444" stroke-width="0.7"/>
<rect x="266.3" y="2251.21" width="9.6" height="191.29" fill="url(#pH1)" stroke="#444" stroke-width="0.7"/>
<rect x="275.9" y="2269.68" width="9.6" height="172.82" fill="url(#pH2)" stroke="#444" stroke-width="0.7"/>
<rect x="285.5" y="2283.23" width="9.6" height="159.27" fill="url(#pH3)" stroke="#444" stroke-width="0.7"/>
<rect x="309.26" y="2251.62" width="9.6" height="190.88" fill="url(#pH1)" stroke="#444" stroke-width="0.7"/>
<rect x="318.86" y="2348.5" width="9.6" height="94" fill="url(#pH2)" stroke="#444" stroke-width="0.7"/>
<rect x="328.46" y="2295.13" width="9.6" height="147.37" fill="url(#pH3)" stroke="#444" stroke-width="0.7"/>
<rect x="352.22" y="2227.4" width="9.6" height="215.1" fill="url(#pH1)" stroke="#444" stroke-width="0.7"/>
<rect x="361.82" y="2228.22" width="9.6" height="214.28" fill="url(#pH2)" stroke="#444" stroke-width="0.7"/>
<rect x="371.42" y="2260.65" width="9.6" height="181.85" fill="url(#pH3)" stroke="#444" stroke-width="0.7"/>
<rect x="395.18" y="2254.49" width="9.6" height="188.01" fill="url(#pH1)" stroke="#444" stroke-width="0.7"/>
<rect x="404.78" y="2274.2" width="9.6" height="168.3" fill="url(#pH2)" stroke="#444" stroke-width="0.7"/>
<rect x="414.38" y="2285.28" width="9.6" height="157.22" fill="url(#pH3)" stroke="#444" stroke-width="0.7"/>
<polyline points="65.9,2294.72 108.86,2335.77 151.82,2343.98 194.78,2352.19 237.74,2360.4 280.7,2352.19 323.66,2360.4 366.62,2270.09 409.58,2319.35" fill="none" stroke="#000" stroke-width="1.4" stroke-dasharray="5,2,1.2,2"/>
<polyline points="65.9,2302.93 108.86,2335.77 151.82,2343.98 194.78,2335.77 237.74,2327.56 280.7,2302.93 323.66,2319.35 366.62,2237.25 409.58,2220.83" fill="none" stroke="#000" stroke-width="1.3" stroke-dasharray="1.1,1.3"/>
<polyline points="65.9,2302.93 108.86,2327.56 151.82,2319.35 194.78,2311.14 237.74,2311.14 280.7,2278.3 323.66,2311.14 366.62,2261.88 409.58,2294.72" fill="none" stroke="#000" stroke-width="1.5"/>
<circle cx="65.9" cy="2294.72" r="2.3" fill="#000"/>
<polygon points="65.9,2300.18 68.43,2304.8 63.37,2304.8" fill="#000"/>
<rect x="63.7" y="2300.73" width="4.4" height="4.4" fill="#000"/>
<circle cx="108.86" cy="2335.77" r="2.3" fill="#000"/>
<polygon points="108.86,2333.02 111.39,2337.64 106.33,2337.64" fill="#000"/>
<rect x="106.66" y="2325.36" width="4.4" height="4.4" fill="#000"/>
<circle cx="151.82" cy="2343.98" r="2.3" fill="#000"/>
<polygon points="151.82,2341.23 154.35,2345.85 149.29,2345.85" fill="#000"/>
<rect x="149.62" y="2317.15" width="4.4" height="4.4" fill="#000"/>
<circle cx="194.78" cy="2352.19" r="2.3" fill="#000"/>
<polygon points="194.78,2333.02 197.31,2337.64 192.25,2337.64" fill="#000"/>
<rect x="192.58" y="2308.94" width="4.4" height="4.4" fill="#000"/>
<circle cx="237.74" cy="2360.4" r="2.3" fill="#000"/>
<polygon points="237.74,2324.81 240.27,2329.43 235.21,2329.43" fill="#000"/>
<rect x="235.54" y="2308.94" width="4.4" height="4.4" fill="#000"/>
<circle cx="280.7" cy="2352.19" r="2.3" fill="#000"/>
<polygon points="280.7,2300.18 283.23,2304.8 278.17,2304.8" fill="#000"/>
<rect x="278.5" y="2276.1" width="4.4" height="4.4" fill="#000"/>
<circle cx="323.66" cy="2360.4" r="2.3" fill="#000"/>
<polygon points="323.66,2316.6 326.19,2321.22 321.13,2321.22" fill="#000"/>
<rect x="321.46" y="2308.94" width="4.4" height="4.4" fill="#000"/>
<circle cx="366.62" cy="2270.09" r="2.3" fill="#000"/>
<polygon points="366.62,2234.5 369.15,2239.12 364.09,2239.12" fill="#000"/>
<rect x="364.42" y="2259.68" width="4.4" height="4.4" fill="#000"/>
<circle cx="409.58" cy="2319.35" r="2.3" fill="#000"/>
<polygon points="409.58,2218.08 412.11,2222.7 407.05,2222.7" fill="#000"/>
<rect x="407.38" y="2292.52" width="4.4" height="4.4" fill="#000"/>
<text x="65.9" y="2454" font-size="7.1" text-anchor="middle" fill="#2a2a2a" color="#2a2a2a" textLength="21.15" lengthAdjust="spacingAndGlyphs">1-3 Yrs</text>
<text x="108.86" y="2454" font-size="7.1" text-anchor="middle" fill="#2a2a2a" color="#2a2a2a" textLength="21.15" lengthAdjust="spacingAndGlyphs">4-6 Yrs</text>
<text x="151.82" y="2454" font-size="7.1" text-anchor="middle" fill="#2a2a2a" color="#2a2a2a" textLength="21.15" lengthAdjust="spacingAndGlyphs">7-9 Yrs</text>
<text x="194.78" y="2454" font-size="7.1" text-anchor="middle" fill="#2a2a2a" color="#2a2a2a" textLength="37.06" lengthAdjust="spacingAndGlyphs">10-12 BOYS</text>
<text x="237.74" y="2454" font-size="7.1" text-anchor="middle" fill="#2a2a2a" color="#2a2a2a" textLength="38.52" lengthAdjust="spacingAndGlyphs">10-12 GIRLS</text>
<text x="280.7" y="2454" font-size="7.1" text-anchor="middle" fill="#2a2a2a" color="#2a2a2a" textLength="37.06" lengthAdjust="spacingAndGlyphs">13-15 BOYS</text>
<text x="323.66" y="2454" font-size="7.1" text-anchor="middle" fill="#2a2a2a" color="#2a2a2a" textLength="38.52" lengthAdjust="spacingAndGlyphs">13-15 GIRLS</text>
<text x="366.62" y="2454" font-size="7.1" text-anchor="middle" fill="#2a2a2a" color="#2a2a2a" textLength="28.06" lengthAdjust="spacingAndGlyphs">&gt;16 yrs &amp;</text>
<text x="366.62" y="2462.6" font-size="7.1" text-anchor="middle" fill="#2a2a2a" color="#2a2a2a" textLength="14.67" lengthAdjust="spacingAndGlyphs">MEN</text>
<text x="409.58" y="2454" font-size="7.1" text-anchor="middle" fill="#2a2a2a" color="#2a2a2a" textLength="21.83" lengthAdjust="spacingAndGlyphs">&gt;16 yrs</text>
<text x="409.58" y="2462.6" font-size="7.1" text-anchor="middle" fill="#2a2a2a" color="#2a2a2a" textLength="30.43" lengthAdjust="spacingAndGlyphs">&amp;WOMEN</text>
<text x="25.1" y="2319.4" font-size="6" text-anchor="middle" fill="#2a2a2a" color="#2a2a2a" transform="rotate(-90 25.1 2319.4)" textLength="71.5" lengthAdjust="spacingAndGlyphs">Cereals &amp; Millets (g/day)</text>
<text x="453.6" y="2319.7" font-size="6" text-anchor="middle" fill="#2a2a2a" color="#2a2a2a" transform="rotate(-90 453.6 2319.7)" textLength="82.4" lengthAdjust="spacingAndGlyphs">Milk &amp; Milk Products (g/day)</text>
<rect x="64.2" y="2472.1" width="16.2" height="3.8" fill="url(#pH1)" stroke="#444" stroke-width="0.6"/>
<text x="82.3" y="2476.3" font-size="6.6" text-anchor="start" fill="#2a2a2a" color="#2a2a2a" textLength="90.8" lengthAdjust="spacingAndGlyphs">CEREALS &amp; MILLETS 1985-87</text>
<rect x="180.6" y="2472.1" width="16.4" height="3.8" fill="url(#pH2)" stroke="#444" stroke-width="0.6"/>
<text x="198.9" y="2476.3" font-size="6.6" text-anchor="start" fill="#2a2a2a" color="#2a2a2a" textLength="90" lengthAdjust="spacingAndGlyphs">CEREALS &amp; MILLETS 1998-99</text>
<rect x="296.5" y="2472.1" width="17.2" height="3.8" fill="url(#pH3)" stroke="#444" stroke-width="0.6"/>
<text x="315" y="2476.3" font-size="6.6" text-anchor="start" fill="#2a2a2a" color="#2a2a2a" textLength="90" lengthAdjust="spacingAndGlyphs">CEREALS &amp; MILLETS 2007-08</text>
<line x1="63.7" y1="2485.7" x2="71" y2="2485.7" stroke="#000" stroke-width="1.4"/>
<circle cx="72.6" cy="2485.7" r="2.1" fill="#000"/>
<text x="82.9" y="2488" font-size="6.6" text-anchor="start" fill="#2a2a2a" color="#2a2a2a" textLength="95" lengthAdjust="spacingAndGlyphs">MILK &amp; M.PRODUCTS 1985-87</text>
<line x1="179" y1="2485.7" x2="196" y2="2485.7" stroke="#000" stroke-width="1.3" stroke-dasharray="1.1,1.3"/>
<polygon points="187.5,2483.2 189.8,2487.4 185.2,2487.4" fill="#000"/>
<text x="198.9" y="2488" font-size="6.6" text-anchor="start" fill="#2a2a2a" color="#2a2a2a" textLength="95.7" lengthAdjust="spacingAndGlyphs">MILK &amp; M.PRODUCTS 1998-99</text>
<line x1="295.7" y1="2485.7" x2="313.7" y2="2485.7" stroke="#000" stroke-width="1.5"/>
<rect x="302.7" y="2483.7" width="4" height="4" fill="#000"/>
<text x="315" y="2488" font-size="6.6" text-anchor="start" fill="#2a2a2a" color="#2a2a2a" textLength="96.8" lengthAdjust="spacingAndGlyphs">MILK &amp; M.PRODUCTS 2007-08</text>
</svg>
</body></html>
